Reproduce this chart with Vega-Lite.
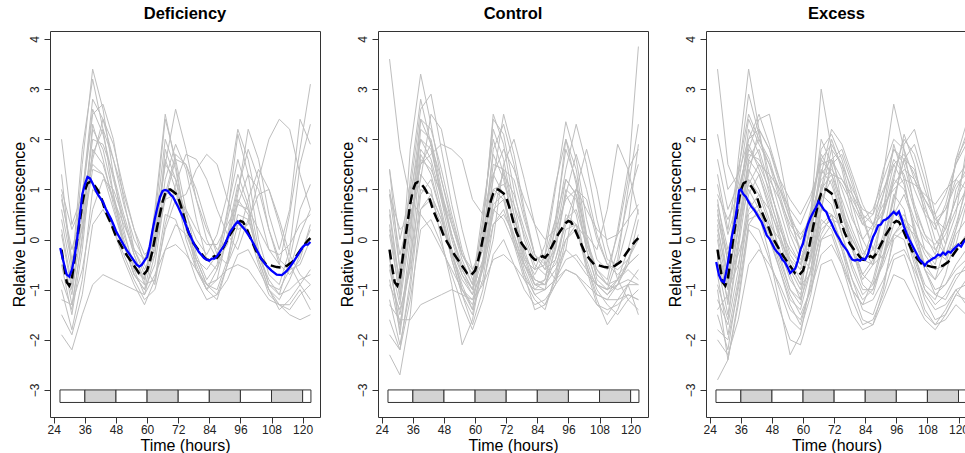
{
"$schema": "https://vega.github.io/schema/vega-lite/v6.json",
"autosize": {"type": "pad"},
"padding": {"left": 10, "top": 5, "right": 0, "bottom": 0},
"bounds": "flush",
"spacing": 58,
"config": {
  "font": "Liberation Sans",
  "view": {"stroke": "#333", "strokeWidth": 1},
  "axis": {"labelFont": "Liberation Sans", "titleFont": "Liberation Sans", "labelColor": "#222", "titleColor": "#000", "tickColor": "#333", "domain": false, "grid": false, "labelFontSize": 12, "titleFontSize": 16, "titleFontWeight": "normal", "tickSize": 6, "labelOverlap": false},
  "title": {"font": "Liberation Sans", "fontSize": 16.5, "fontWeight": "bold", "color": "#000", "anchor": "middle", "frame": "group", "baseline": "alphabetic", "offset": 9}
},
"datasets": {
"lightDark": [
{"start": 26.4, "end": 36, "phase": "light"},
{"start": 36, "end": 48, "phase": "dark"},
{"start": 48, "end": 60, "phase": "light"},
{"start": 60, "end": 72, "phase": "dark"},
{"start": 72, "end": 84, "phase": "light"},
{"start": 84, "end": 96, "phase": "dark"},
{"start": 96, "end": 108, "phase": "light"},
{"start": 108, "end": 120, "phase": "dark"},
{"start": 120, "end": 123.2, "phase": "light"}
],
"controlMean": [
{"t":27,"v":-0.2},{"t":28,"v":-0.55},{"t":29,"v":-0.85},{"t":30,"v":-0.92},{"t":31,"v":-0.78},{"t":32,"v":-0.4},{"t":33,"v":0.0},{"t":34,"v":0.35},{"t":35,"v":0.72},{"t":36,"v":0.98},{"t":37,"v":1.12},{"t":38,"v":1.15},{"t":39,"v":1.12},{"t":40,"v":1.06},{"t":41,"v":0.98},{"t":42,"v":0.88},{"t":43,"v":0.72},{"t":44,"v":0.56},{"t":45,"v":0.44},{"t":46,"v":0.33},{"t":47,"v":0.2},{"t":48,"v":0.06},{"t":50,"v":-0.12},{"t":52,"v":-0.3},{"t":54,"v":-0.45},{"t":56,"v":-0.6},{"t":57,"v":-0.68},{"t":58,"v":-0.72},{"t":59,"v":-0.68},{"t":60,"v":-0.62},{"t":61,"v":-0.45},{"t":62,"v":-0.24},{"t":63,"v":0.02},{"t":64,"v":0.28},{"t":65,"v":0.52},{"t":66,"v":0.76},{"t":67,"v":0.92},{"t":68,"v":1.0},{"t":69,"v":1.0},{"t":70,"v":0.96},{"t":71,"v":0.92},{"t":72,"v":0.84},{"t":73,"v":0.68},{"t":74,"v":0.5},{"t":75,"v":0.3},{"t":76,"v":0.14},{"t":78,"v":-0.08},{"t":80,"v":-0.22},{"t":82,"v":-0.35},{"t":83,"v":-0.4},{"t":84,"v":-0.41},{"t":85,"v":-0.36},{"t":86,"v":-0.33},{"t":87,"v":-0.36},{"t":88,"v":-0.3},{"t":90,"v":-0.1},{"t":92,"v":0.1},{"t":94,"v":0.26},{"t":95,"v":0.33},{"t":96,"v":0.37},{"t":97,"v":0.35},{"t":98,"v":0.26},{"t":100,"v":0.02},{"t":102,"v":-0.22},{"t":104,"v":-0.38},{"t":106,"v":-0.5},{"t":108,"v":-0.52},{"t":110,"v":-0.55},{"t":112,"v":-0.56},{"t":114,"v":-0.52},{"t":116,"v":-0.45},{"t":118,"v":-0.3},{"t":120,"v":-0.15},{"t":122,"v":-0.02},{"t":123,"v":0.03}
],
"groupMean": [
{"grp":"D","t":26.5,"v":-0.17},{"grp":"D","t":28,"v":-0.5},{"grp":"D","t":29,"v":-0.7},{"grp":"D","t":30,"v":-0.74},{"grp":"D","t":31,"v":-0.6},{"grp":"D","t":32,"v":-0.35},{"grp":"D","t":33,"v":0.0},{"grp":"D","t":34,"v":0.45},{"grp":"D","t":35,"v":0.9},{"grp":"D","t":36,"v":1.1},{"grp":"D","t":37,"v":1.25},{"grp":"D","t":38,"v":1.22},{"grp":"D","t":39,"v":1.12},{"grp":"D","t":40,"v":1.0},{"grp":"D","t":41,"v":0.9},{"grp":"D","t":42,"v":0.82},{"grp":"D","t":43,"v":0.75},{"grp":"D","t":44,"v":0.62},{"grp":"D","t":45,"v":0.52},{"grp":"D","t":46,"v":0.42},{"grp":"D","t":47,"v":0.3},{"grp":"D","t":48,"v":0.17},{"grp":"D","t":50,"v":-0.02},{"grp":"D","t":52,"v":-0.2},{"grp":"D","t":54,"v":-0.35},{"grp":"D","t":56,"v":-0.5},{"grp":"D","t":57,"v":-0.54},{"grp":"D","t":58,"v":-0.5},{"grp":"D","t":59,"v":-0.42},{"grp":"D","t":60,"v":-0.35},{"grp":"D","t":61,"v":-0.15},{"grp":"D","t":62,"v":0.15},{"grp":"D","t":63,"v":0.42},{"grp":"D","t":64,"v":0.65},{"grp":"D","t":65,"v":0.85},{"grp":"D","t":66,"v":0.97},{"grp":"D","t":67,"v":0.99},{"grp":"D","t":68,"v":0.97},{"grp":"D","t":69,"v":0.9},{"grp":"D","t":70,"v":0.85},{"grp":"D","t":72,"v":0.65},{"grp":"D","t":74,"v":0.42},{"grp":"D","t":76,"v":0.15},{"grp":"D","t":78,"v":-0.08},{"grp":"D","t":80,"v":-0.25},{"grp":"D","t":82,"v":-0.37},{"grp":"D","t":83,"v":-0.4},{"grp":"D","t":84,"v":-0.42},{"grp":"D","t":85,"v":-0.38},{"grp":"D","t":86,"v":-0.38},{"grp":"D","t":87,"v":-0.33},{"grp":"D","t":88,"v":-0.25},{"grp":"D","t":90,"v":-0.1},{"grp":"D","t":92,"v":0.15},{"grp":"D","t":94,"v":0.3},{"grp":"D","t":95,"v":0.36},{"grp":"D","t":96,"v":0.3},{"grp":"D","t":98,"v":0.18},{"grp":"D","t":100,"v":0.02},{"grp":"D","t":102,"v":-0.18},{"grp":"D","t":104,"v":-0.38},{"grp":"D","t":106,"v":-0.52},{"grp":"D","t":108,"v":-0.62},{"grp":"D","t":110,"v":-0.7},{"grp":"D","t":112,"v":-0.71},{"grp":"D","t":114,"v":-0.62},{"grp":"D","t":116,"v":-0.48},{"grp":"D","t":118,"v":-0.32},{"grp":"D","t":120,"v":-0.15},{"grp":"D","t":121,"v":-0.1},{"grp":"D","t":122,"v":-0.1},{"grp":"D","t":123,"v":-0.05},
{"grp":"E","t":26.5,"v":-0.45},{"grp":"E","t":27.5,"v":-0.7},{"grp":"E","t":28.5,"v":-0.82},{"grp":"E","t":29.5,"v":-0.85},{"grp":"E","t":30.5,"v":-0.62},{"grp":"E","t":31.5,"v":-0.3},{"grp":"E","t":32.5,"v":0.05},{"grp":"E","t":33.5,"v":0.3},{"grp":"E","t":34.5,"v":0.62},{"grp":"E","t":35.3,"v":0.98},{"grp":"E","t":36,"v":1.0},{"grp":"E","t":37,"v":0.9},{"grp":"E","t":38,"v":0.85},{"grp":"E","t":39,"v":0.75},{"grp":"E","t":40,"v":0.66},{"grp":"E","t":41,"v":0.6},{"grp":"E","t":42,"v":0.52},{"grp":"E","t":43,"v":0.43},{"grp":"E","t":44,"v":0.35},{"grp":"E","t":45,"v":0.22},{"grp":"E","t":46,"v":0.08},{"grp":"E","t":47,"v":0.02},{"grp":"E","t":48,"v":-0.08},{"grp":"E","t":49,"v":-0.18},{"grp":"E","t":50,"v":-0.25},{"grp":"E","t":51,"v":-0.3},{"grp":"E","t":52,"v":-0.4},{"grp":"E","t":53,"v":-0.45},{"grp":"E","t":54,"v":-0.55},{"grp":"E","t":55,"v":-0.67},{"grp":"E","t":56,"v":-0.62},{"grp":"E","t":57,"v":-0.58},{"grp":"E","t":58,"v":-0.42},{"grp":"E","t":59,"v":-0.2},{"grp":"E","t":60,"v":-0.08},{"grp":"E","t":61,"v":0.15},{"grp":"E","t":62,"v":0.32},{"grp":"E","t":63,"v":0.45},{"grp":"E","t":64,"v":0.55},{"grp":"E","t":65,"v":0.64},{"grp":"E","t":66,"v":0.76},{"grp":"E","t":67,"v":0.68},{"grp":"E","t":68,"v":0.6},{"grp":"E","t":69,"v":0.55},{"grp":"E","t":70,"v":0.42},{"grp":"E","t":71,"v":0.32},{"grp":"E","t":72,"v":0.2},{"grp":"E","t":73,"v":0.1},{"grp":"E","t":74,"v":0.02},{"grp":"E","t":75,"v":-0.08},{"grp":"E","t":76,"v":-0.15},{"grp":"E","t":77,"v":-0.22},{"grp":"E","t":78,"v":-0.32},{"grp":"E","t":79,"v":-0.4},{"grp":"E","t":80,"v":-0.42},{"grp":"E","t":81,"v":-0.4},{"grp":"E","t":82,"v":-0.42},{"grp":"E","t":83,"v":-0.38},{"grp":"E","t":84,"v":-0.4},{"grp":"E","t":85,"v":-0.3},{"grp":"E","t":86,"v":-0.12},{"grp":"E","t":87,"v":0.05},{"grp":"E","t":88,"v":0.15},{"grp":"E","t":89,"v":0.28},{"grp":"E","t":90,"v":0.3},{"grp":"E","t":91,"v":0.38},{"grp":"E","t":92,"v":0.4},{"grp":"E","t":93,"v":0.44},{"grp":"E","t":94,"v":0.5},{"grp":"E","t":95,"v":0.55},{"grp":"E","t":96,"v":0.5},{"grp":"E","t":97,"v":0.56},{"grp":"E","t":98,"v":0.42},{"grp":"E","t":99,"v":0.25},{"grp":"E","t":100,"v":0.12},{"grp":"E","t":101,"v":0.0},{"grp":"E","t":102,"v":-0.1},{"grp":"E","t":103,"v":-0.2},{"grp":"E","t":104,"v":-0.3},{"grp":"E","t":105,"v":-0.4},{"grp":"E","t":106,"v":-0.45},{"grp":"E","t":107,"v":-0.52},{"grp":"E","t":108,"v":-0.45},{"grp":"E","t":109,"v":-0.42},{"grp":"E","t":110,"v":-0.38},{"grp":"E","t":111,"v":-0.36},{"grp":"E","t":112,"v":-0.3},{"grp":"E","t":113,"v":-0.32},{"grp":"E","t":114,"v":-0.26},{"grp":"E","t":115,"v":-0.3},{"grp":"E","t":116,"v":-0.24},{"grp":"E","t":117,"v":-0.26},{"grp":"E","t":118,"v":-0.2},{"grp":"E","t":119,"v":-0.15},{"grp":"E","t":120,"v":-0.1},{"grp":"E","t":121,"v":-0.14},{"grp":"E","t":122,"v":-0.05},{"grp":"E","t":123,"v":0.0}
],
"traces": [
{"grp":"D","id":1,"t":27,"v":0.2},{"grp":"D","id":1,"t":31,"v":-0.9},{"grp":"D","id":1,"t":35,"v":1.5},{"grp":"D","id":1,"t":39,"v":3.4},{"grp":"D","id":1,"t":43,"v":2.6},{"grp":"D","id":1,"t":47,"v":1.3},{"grp":"D","id":1,"t":51,"v":0.2},{"grp":"D","id":1,"t":55,"v":-0.6},{"grp":"D","id":1,"t":59,"v":-0.8},{"grp":"D","id":1,"t":63,"v":0.4},{"grp":"D","id":1,"t":67,"v":2.4},{"grp":"D","id":1,"t":71,"v":1.6},{"grp":"D","id":1,"t":75,"v":0.6},{"grp":"D","id":1,"t":79,"v":-0.3},{"grp":"D","id":1,"t":83,"v":-0.8},{"grp":"D","id":1,"t":87,"v":-0.5},{"grp":"D","id":1,"t":91,"v":0.6},{"grp":"D","id":1,"t":95,"v":1.6},{"grp":"D","id":1,"t":99,"v":0.9},{"grp":"D","id":1,"t":103,"v":-0.2},{"grp":"D","id":1,"t":107,"v":-0.9},{"grp":"D","id":1,"t":111,"v":-1.1},{"grp":"D","id":1,"t":115,"v":-0.4},{"grp":"D","id":1,"t":119,"v":0.6},{"grp":"D","id":1,"t":123,"v":1.1},
{"grp":"D","id":2,"t":27,"v":1.3},{"grp":"D","id":2,"t":31,"v":-0.6},{"grp":"D","id":2,"t":35,"v":1.8},{"grp":"D","id":2,"t":39,"v":3.2},{"grp":"D","id":2,"t":43,"v":2.2},{"grp":"D","id":2,"t":47,"v":0.9},{"grp":"D","id":2,"t":51,"v":-0.1},{"grp":"D","id":2,"t":55,"v":-0.7},{"grp":"D","id":2,"t":59,"v":-0.9},{"grp":"D","id":2,"t":63,"v":0.6},{"grp":"D","id":2,"t":67,"v":2.5},{"grp":"D","id":2,"t":71,"v":1.5},{"grp":"D","id":2,"t":75,"v":0.3},{"grp":"D","id":2,"t":79,"v":-0.6},{"grp":"D","id":2,"t":83,"v":-1.0},{"grp":"D","id":2,"t":87,"v":-0.6},{"grp":"D","id":2,"t":91,"v":0.4},{"grp":"D","id":2,"t":95,"v":1.3},{"grp":"D","id":2,"t":99,"v":0.7},{"grp":"D","id":2,"t":103,"v":-0.4},{"grp":"D","id":2,"t":107,"v":-1.0},{"grp":"D","id":2,"t":111,"v":-1.2},{"grp":"D","id":2,"t":115,"v":-0.8},{"grp":"D","id":2,"t":119,"v":-0.3},{"grp":"D","id":2,"t":123,"v":0.2},
{"grp":"D","id":3,"t":27,"v":0.6},{"grp":"D","id":3,"t":31,"v":-0.5},{"grp":"D","id":3,"t":35,"v":0.8},{"grp":"D","id":3,"t":39,"v":2.5},{"grp":"D","id":3,"t":43,"v":2.7},{"grp":"D","id":3,"t":47,"v":2.0},{"grp":"D","id":3,"t":51,"v":0.8},{"grp":"D","id":3,"t":55,"v":-0.2},{"grp":"D","id":3,"t":59,"v":-0.7},{"grp":"D","id":3,"t":63,"v":-0.3},{"grp":"D","id":3,"t":67,"v":1.2},{"grp":"D","id":3,"t":71,"v":1.9},{"grp":"D","id":3,"t":75,"v":1.4},{"grp":"D","id":3,"t":79,"v":0.4},{"grp":"D","id":3,"t":83,"v":-0.4},{"grp":"D","id":3,"t":87,"v":-0.6},{"grp":"D","id":3,"t":91,"v":0.0},{"grp":"D","id":3,"t":95,"v":1.0},{"grp":"D","id":3,"t":99,"v":1.8},{"grp":"D","id":3,"t":103,"v":1.2},{"grp":"D","id":3,"t":107,"v":0.2},{"grp":"D","id":3,"t":111,"v":-0.5},{"grp":"D","id":3,"t":115,"v":-0.7},{"grp":"D","id":3,"t":119,"v":-0.4},{"grp":"D","id":3,"t":123,"v":0.3},
{"grp":"D","id":4,"t":27,"v":2.0},{"grp":"D","id":4,"t":31,"v":0.3},{"grp":"D","id":4,"t":35,"v":0.9},{"grp":"D","id":4,"t":39,"v":2.8},{"grp":"D","id":4,"t":43,"v":2.4},{"grp":"D","id":4,"t":47,"v":1.6},{"grp":"D","id":4,"t":51,"v":0.7},{"grp":"D","id":4,"t":55,"v":0.0},{"grp":"D","id":4,"t":59,"v":-0.4},{"grp":"D","id":4,"t":63,"v":0.2},{"grp":"D","id":4,"t":67,"v":1.5},{"grp":"D","id":4,"t":71,"v":1.2},{"grp":"D","id":4,"t":75,"v":0.5},{"grp":"D","id":4,"t":79,"v":0.0},{"grp":"D","id":4,"t":83,"v":-0.3},{"grp":"D","id":4,"t":87,"v":0.1},{"grp":"D","id":4,"t":91,"v":0.9},{"grp":"D","id":4,"t":95,"v":2.2},{"grp":"D","id":4,"t":99,"v":1.6},{"grp":"D","id":4,"t":103,"v":0.6},{"grp":"D","id":4,"t":107,"v":-0.2},{"grp":"D","id":4,"t":111,"v":-0.5},{"grp":"D","id":4,"t":115,"v":0.5},{"grp":"D","id":4,"t":119,"v":1.8},{"grp":"D","id":4,"t":123,"v":3.1},
{"grp":"D","id":5,"t":27,"v":-1.9},{"grp":"D","id":5,"t":31,"v":-2.2},{"grp":"D","id":5,"t":35,"v":-1.5},{"grp":"D","id":5,"t":39,"v":-0.9},{"grp":"D","id":5,"t":43,"v":-0.7},{"grp":"D","id":5,"t":47,"v":-0.8},{"grp":"D","id":5,"t":51,"v":-0.9},{"grp":"D","id":5,"t":55,"v":-1.0},{"grp":"D","id":5,"t":59,"v":-1.1},{"grp":"D","id":5,"t":63,"v":-0.7},{"grp":"D","id":5,"t":67,"v":-0.2},{"grp":"D","id":5,"t":71,"v":-0.1},{"grp":"D","id":5,"t":75,"v":-0.3},{"grp":"D","id":5,"t":79,"v":-0.6},{"grp":"D","id":5,"t":83,"v":-0.9},{"grp":"D","id":5,"t":87,"v":-0.8},{"grp":"D","id":5,"t":91,"v":-0.6},{"grp":"D","id":5,"t":95,"v":-0.5},{"grp":"D","id":5,"t":99,"v":-0.6},{"grp":"D","id":5,"t":103,"v":-0.9},{"grp":"D","id":5,"t":107,"v":-1.2},{"grp":"D","id":5,"t":111,"v":-1.3},{"grp":"D","id":5,"t":115,"v":-1.5},{"grp":"D","id":5,"t":119,"v":-1.6},{"grp":"D","id":5,"t":123,"v":-1.5},
{"grp":"D","id":6,"t":27,"v":0.9},{"grp":"D","id":6,"t":31,"v":-0.4},{"grp":"D","id":6,"t":35,"v":0.2},{"grp":"D","id":6,"t":39,"v":1.6},{"grp":"D","id":6,"t":43,"v":2.4},{"grp":"D","id":6,"t":47,"v":1.9},{"grp":"D","id":6,"t":51,"v":1.0},{"grp":"D","id":6,"t":55,"v":0.2},{"grp":"D","id":6,"t":59,"v":-0.5},{"grp":"D","id":6,"t":63,"v":-0.9},{"grp":"D","id":6,"t":67,"v":0.3},{"grp":"D","id":6,"t":71,"v":1.1},{"grp":"D","id":6,"t":75,"v":1.7},{"grp":"D","id":6,"t":79,"v":1.6},{"grp":"D","id":6,"t":83,"v":1.2},{"grp":"D","id":6,"t":87,"v":0.6},{"grp":"D","id":6,"t":91,"v":0.1},{"grp":"D","id":6,"t":95,"v":-0.2},{"grp":"D","id":6,"t":99,"v":0.4},{"grp":"D","id":6,"t":103,"v":0.9},{"grp":"D","id":6,"t":107,"v":1.0},{"grp":"D","id":6,"t":111,"v":0.4},{"grp":"D","id":6,"t":115,"v":-0.3},{"grp":"D","id":6,"t":119,"v":-0.7},{"grp":"D","id":6,"t":123,"v":-0.9},
{"grp":"D","id":7,"t":27,"v":-1.2},{"grp":"D","id":7,"t":31,"v":-1.3},{"grp":"D","id":7,"t":35,"v":-0.6},{"grp":"D","id":7,"t":39,"v":0.6},{"grp":"D","id":7,"t":43,"v":1.2},{"grp":"D","id":7,"t":47,"v":1.0},{"grp":"D","id":7,"t":51,"v":0.4},{"grp":"D","id":7,"t":55,"v":-0.3},{"grp":"D","id":7,"t":59,"v":-0.9},{"grp":"D","id":7,"t":63,"v":-0.8},{"grp":"D","id":7,"t":67,"v":0.2},{"grp":"D","id":7,"t":71,"v":0.8},{"grp":"D","id":7,"t":75,"v":0.9},{"grp":"D","id":7,"t":79,"v":1.4},{"grp":"D","id":7,"t":83,"v":1.7},{"grp":"D","id":7,"t":87,"v":1.5},{"grp":"D","id":7,"t":91,"v":0.8},{"grp":"D","id":7,"t":95,"v":0.2},{"grp":"D","id":7,"t":99,"v":0.3},{"grp":"D","id":7,"t":103,"v":1.2},{"grp":"D","id":7,"t":107,"v":2.0},{"grp":"D","id":7,"t":111,"v":2.4},{"grp":"D","id":7,"t":115,"v":2.2},{"grp":"D","id":7,"t":119,"v":1.3},{"grp":"D","id":7,"t":123,"v":0.6},
{"grp":"D","id":8,"t":27,"v":-0.5},{"grp":"D","id":8,"t":31,"v":-1.5},{"grp":"D","id":8,"t":35,"v":-0.2},{"grp":"D","id":8,"t":39,"v":1.8},{"grp":"D","id":8,"t":43,"v":1.5},{"grp":"D","id":8,"t":47,"v":0.8},{"grp":"D","id":8,"t":51,"v":0.0},{"grp":"D","id":8,"t":55,"v":-0.6},{"grp":"D","id":8,"t":59,"v":-1.1},{"grp":"D","id":8,"t":63,"v":-0.3},{"grp":"D","id":8,"t":67,"v":1.8},{"grp":"D","id":8,"t":71,"v":1.2},{"grp":"D","id":8,"t":75,"v":0.2},{"grp":"D","id":8,"t":79,"v":-0.5},{"grp":"D","id":8,"t":83,"v":-1.0},{"grp":"D","id":8,"t":87,"v":-1.2},{"grp":"D","id":8,"t":91,"v":-0.5},{"grp":"D","id":8,"t":95,"v":0.8},{"grp":"D","id":8,"t":99,"v":0.5},{"grp":"D","id":8,"t":103,"v":-0.4},{"grp":"D","id":8,"t":107,"v":-1.0},{"grp":"D","id":8,"t":111,"v":-1.4},{"grp":"D","id":8,"t":115,"v":-1.2},{"grp":"D","id":8,"t":119,"v":-0.9},{"grp":"D","id":8,"t":123,"v":-0.6},
{"grp":"D","id":9,"t":27,"v":-0.3},{"grp":"D","id":9,"t":31,"v":-1.1},{"grp":"D","id":9,"t":35,"v":0.3},{"grp":"D","id":9,"t":39,"v":2.2},{"grp":"D","id":9,"t":43,"v":1.8},{"grp":"D","id":9,"t":47,"v":0.9},{"grp":"D","id":9,"t":51,"v":0.1},{"grp":"D","id":9,"t":55,"v":-0.5},{"grp":"D","id":9,"t":59,"v":-0.8},{"grp":"D","id":9,"t":63,"v":0.2},{"grp":"D","id":9,"t":67,"v":2.0},{"grp":"D","id":9,"t":71,"v":1.4},{"grp":"D","id":9,"t":75,"v":0.3},{"grp":"D","id":9,"t":79,"v":-0.4},{"grp":"D","id":9,"t":83,"v":-0.6},{"grp":"D","id":9,"t":87,"v":-0.3},{"grp":"D","id":9,"t":91,"v":0.5},{"grp":"D","id":9,"t":95,"v":2.1},{"grp":"D","id":9,"t":99,"v":1.3},{"grp":"D","id":9,"t":103,"v":0.0},{"grp":"D","id":9,"t":107,"v":-0.7},{"grp":"D","id":9,"t":111,"v":-0.9},{"grp":"D","id":9,"t":115,"v":-0.2},{"grp":"D","id":9,"t":119,"v":1.5},{"grp":"D","id":9,"t":123,"v":2.3},
{"grp":"D","id":10,"t":27,"v":-1.0},{"grp":"D","id":10,"t":31,"v":-1.8},{"grp":"D","id":10,"t":35,"v":-0.8},{"grp":"D","id":10,"t":39,"v":1.0},{"grp":"D","id":10,"t":43,"v":0.8},{"grp":"D","id":10,"t":47,"v":0.2},{"grp":"D","id":10,"t":51,"v":-0.4},{"grp":"D","id":10,"t":55,"v":-0.9},{"grp":"D","id":10,"t":59,"v":-1.3},{"grp":"D","id":10,"t":63,"v":-0.8},{"grp":"D","id":10,"t":67,"v":0.5},{"grp":"D","id":10,"t":71,"v":0.4},{"grp":"D","id":10,"t":75,"v":-0.2},{"grp":"D","id":10,"t":79,"v":-0.8},{"grp":"D","id":10,"t":83,"v":-1.2},{"grp":"D","id":10,"t":87,"v":-1.1},{"grp":"D","id":10,"t":91,"v":-0.5},{"grp":"D","id":10,"t":95,"v":0.3},{"grp":"D","id":10,"t":99,"v":0.2},{"grp":"D","id":10,"t":103,"v":-0.5},{"grp":"D","id":10,"t":107,"v":-1.1},{"grp":"D","id":10,"t":111,"v":-1.3},{"grp":"D","id":10,"t":115,"v":-1.4},{"grp":"D","id":10,"t":119,"v":-1.1},{"grp":"D","id":10,"t":123,"v":-0.9},
{"grp":"D","id":11,"t":27,"v":0.4},{"grp":"D","id":11,"t":31,"v":-0.7},{"grp":"D","id":11,"t":35,"v":0.9},{"grp":"D","id":11,"t":39,"v":2.6},{"grp":"D","id":11,"t":43,"v":2.1},{"grp":"D","id":11,"t":47,"v":1.2},{"grp":"D","id":11,"t":51,"v":0.4},{"grp":"D","id":11,"t":55,"v":-0.3},{"grp":"D","id":11,"t":59,"v":-0.8},{"grp":"D","id":11,"t":63,"v":0.0},{"grp":"D","id":11,"t":67,"v":1.5},{"grp":"D","id":11,"t":71,"v":2.6},{"grp":"D","id":11,"t":75,"v":1.8},{"grp":"D","id":11,"t":79,"v":0.8},{"grp":"D","id":11,"t":83,"v":0.0},{"grp":"D","id":11,"t":87,"v":-0.4},{"grp":"D","id":11,"t":91,"v":-0.1},{"grp":"D","id":11,"t":95,"v":0.9},{"grp":"D","id":11,"t":99,"v":2.2},{"grp":"D","id":11,"t":103,"v":1.6},{"grp":"D","id":11,"t":107,"v":0.5},{"grp":"D","id":11,"t":111,"v":-0.2},{"grp":"D","id":11,"t":115,"v":0.6},{"grp":"D","id":11,"t":119,"v":2.4},{"grp":"D","id":11,"t":123,"v":1.9},
{"grp":"D","id":12,"t":27,"v":-0.8},{"grp":"D","id":12,"t":31,"v":-1.4},{"grp":"D","id":12,"t":35,"v":0.1},{"grp":"D","id":12,"t":39,"v":1.4},{"grp":"D","id":12,"t":43,"v":1.3},{"grp":"D","id":12,"t":47,"v":0.6},{"grp":"D","id":12,"t":51,"v":-0.1},{"grp":"D","id":12,"t":55,"v":-0.7},{"grp":"D","id":12,"t":59,"v":-1.0},{"grp":"D","id":12,"t":63,"v":-0.5},{"grp":"D","id":12,"t":67,"v":0.9},{"grp":"D","id":12,"t":71,"v":1.0},{"grp":"D","id":12,"t":75,"v":0.4},{"grp":"D","id":12,"t":79,"v":-0.4},{"grp":"D","id":12,"t":83,"v":-0.9},{"grp":"D","id":12,"t":87,"v":-1.0},{"grp":"D","id":12,"t":91,"v":-0.4},{"grp":"D","id":12,"t":95,"v":0.5},{"grp":"D","id":12,"t":99,"v":0.4},{"grp":"D","id":12,"t":103,"v":-0.3},{"grp":"D","id":12,"t":107,"v":-0.8},{"grp":"D","id":12,"t":111,"v":-1.1},{"grp":"D","id":12,"t":115,"v":-1.0},{"grp":"D","id":12,"t":119,"v":-0.8},{"grp":"D","id":12,"t":123,"v":-0.7},
{"grp":"D","id":13,"t":27,"v":0.1},{"grp":"D","id":13,"t":31,"v":-1.0},{"grp":"D","id":13,"t":35,"v":0.5},{"grp":"D","id":13,"t":39,"v":2.0},{"grp":"D","id":13,"t":43,"v":1.9},{"grp":"D","id":13,"t":47,"v":1.3},{"grp":"D","id":13,"t":51,"v":0.5},{"grp":"D","id":13,"t":55,"v":-0.2},{"grp":"D","id":13,"t":59,"v":-0.6},{"grp":"D","id":13,"t":63,"v":-0.2},{"grp":"D","id":13,"t":67,"v":0.8},{"grp":"D","id":13,"t":71,"v":1.6},{"grp":"D","id":13,"t":75,"v":1.5},{"grp":"D","id":13,"t":79,"v":1.0},{"grp":"D","id":13,"t":83,"v":0.3},{"grp":"D","id":13,"t":87,"v":-0.3},{"grp":"D","id":13,"t":91,"v":-0.5},{"grp":"D","id":13,"t":95,"v":0.0},{"grp":"D","id":13,"t":99,"v":0.8},{"grp":"D","id":13,"t":103,"v":1.4},{"grp":"D","id":13,"t":107,"v":1.0},{"grp":"D","id":13,"t":111,"v":0.3},{"grp":"D","id":13,"t":115,"v":-0.5},{"grp":"D","id":13,"t":119,"v":-0.9},{"grp":"D","id":13,"t":123,"v":-1.2},
{"grp":"D","id":14,"t":27,"v":-1.5},{"grp":"D","id":14,"t":31,"v":-1.9},{"grp":"D","id":14,"t":35,"v":-1.1},{"grp":"D","id":14,"t":39,"v":0.3},{"grp":"D","id":14,"t":43,"v":0.6},{"grp":"D","id":14,"t":47,"v":0.2},{"grp":"D","id":14,"t":51,"v":-0.3},{"grp":"D","id":14,"t":55,"v":-0.8},{"grp":"D","id":14,"t":59,"v":-1.2},{"grp":"D","id":14,"t":63,"v":-1.0},{"grp":"D","id":14,"t":67,"v":-0.2},{"grp":"D","id":14,"t":71,"v":0.3},{"grp":"D","id":14,"t":75,"v":0.1},{"grp":"D","id":14,"t":79,"v":-0.4},{"grp":"D","id":14,"t":83,"v":-0.9},{"grp":"D","id":14,"t":87,"v":-1.1},{"grp":"D","id":14,"t":91,"v":-0.8},{"grp":"D","id":14,"t":95,"v":-0.3},{"grp":"D","id":14,"t":99,"v":-0.2},{"grp":"D","id":14,"t":103,"v":-0.6},{"grp":"D","id":14,"t":107,"v":-1.0},{"grp":"D","id":14,"t":111,"v":-1.3},{"grp":"D","id":14,"t":115,"v":-1.3},{"grp":"D","id":14,"t":119,"v":-1.0},{"grp":"D","id":14,"t":123,"v":-1.4},
{"grp":"D","id":15,"t":27,"v":0.8},{"grp":"D","id":15,"t":31,"v":-0.2},{"grp":"D","id":15,"t":35,"v":0.6},{"grp":"D","id":15,"t":39,"v":1.7},{"grp":"D","id":15,"t":43,"v":2.2},{"grp":"D","id":15,"t":47,"v":1.6},{"grp":"D","id":15,"t":51,"v":0.9},{"grp":"D","id":15,"t":55,"v":0.2},{"grp":"D","id":15,"t":59,"v":-0.3},{"grp":"D","id":15,"t":63,"v":-0.1},{"grp":"D","id":15,"t":67,"v":0.9},{"grp":"D","id":15,"t":71,"v":1.7},{"grp":"D","id":15,"t":75,"v":1.5},{"grp":"D","id":15,"t":79,"v":0.8},{"grp":"D","id":15,"t":83,"v":0.2},{"grp":"D","id":15,"t":87,"v":-0.2},{"grp":"D","id":15,"t":91,"v":0.0},{"grp":"D","id":15,"t":95,"v":0.7},{"grp":"D","id":15,"t":99,"v":1.3},{"grp":"D","id":15,"t":103,"v":1.0},{"grp":"D","id":15,"t":107,"v":0.2},{"grp":"D","id":15,"t":111,"v":-0.4},{"grp":"D","id":15,"t":115,"v":-0.6},{"grp":"D","id":15,"t":119,"v":-0.5},{"grp":"D","id":15,"t":123,"v":0.0},
{"grp":"D","id":16,"t":27,"v":-0.2},{"grp":"D","id":16,"t":31,"v":-1.3},{"grp":"D","id":16,"t":35,"v":0.0},{"grp":"D","id":16,"t":39,"v":2.3},{"grp":"D","id":16,"t":43,"v":1.6},{"grp":"D","id":16,"t":47,"v":0.7},{"grp":"D","id":16,"t":51,"v":-0.1},{"grp":"D","id":16,"t":55,"v":-0.7},{"grp":"D","id":16,"t":59,"v":-1.0},{"grp":"D","id":16,"t":63,"v":-0.1},{"grp":"D","id":16,"t":67,"v":1.6},{"grp":"D","id":16,"t":71,"v":1.0},{"grp":"D","id":16,"t":75,"v":0.0},{"grp":"D","id":16,"t":79,"v":-0.6},{"grp":"D","id":16,"t":83,"v":-1.0},{"grp":"D","id":16,"t":87,"v":-0.8},{"grp":"D","id":16,"t":91,"v":0.1},{"grp":"D","id":16,"t":95,"v":1.1},{"grp":"D","id":16,"t":99,"v":0.6},{"grp":"D","id":16,"t":103,"v":-0.3},{"grp":"D","id":16,"t":107,"v":-0.9},{"grp":"D","id":16,"t":111,"v":-1.0},{"grp":"D","id":16,"t":115,"v":-0.6},{"grp":"D","id":16,"t":119,"v":0.1},{"grp":"D","id":16,"t":123,"v":0.6},
{"grp":"D","id":17,"t":27,"v":1.0},{"grp":"D","id":17,"t":31,"v":0.2},{"grp":"D","id":17,"t":35,"v":0.7},{"grp":"D","id":17,"t":39,"v":1.5},{"grp":"D","id":17,"t":43,"v":1.3},{"grp":"D","id":17,"t":47,"v":0.8},{"grp":"D","id":17,"t":51,"v":0.3},{"grp":"D","id":17,"t":55,"v":-0.2},{"grp":"D","id":17,"t":59,"v":-0.4},{"grp":"D","id":17,"t":63,"v":0.1},{"grp":"D","id":17,"t":67,"v":0.8},{"grp":"D","id":17,"t":71,"v":0.9},{"grp":"D","id":17,"t":75,"v":0.6},{"grp":"D","id":17,"t":79,"v":0.2},{"grp":"D","id":17,"t":83,"v":-0.1},{"grp":"D","id":17,"t":87,"v":-0.1},{"grp":"D","id":17,"t":91,"v":0.3},{"grp":"D","id":17,"t":95,"v":0.7},{"grp":"D","id":17,"t":99,"v":0.6},{"grp":"D","id":17,"t":103,"v":0.2},{"grp":"D","id":17,"t":107,"v":-0.2},{"grp":"D","id":17,"t":111,"v":-0.3},{"grp":"D","id":17,"t":115,"v":-0.1},{"grp":"D","id":17,"t":119,"v":0.3},{"grp":"D","id":17,"t":123,"v":0.5},
{"grp":"C","id":1,"t":27,"v":3.6},{"grp":"C","id":1,"t":31,"v":1.8},{"grp":"C","id":1,"t":35,"v":0.8},{"grp":"C","id":1,"t":39,"v":0.5},{"grp":"C","id":1,"t":43,"v":0.2},{"grp":"C","id":1,"t":47,"v":-0.2},{"grp":"C","id":1,"t":51,"v":-0.6},{"grp":"C","id":1,"t":55,"v":-1.0},{"grp":"C","id":1,"t":59,"v":-1.2},{"grp":"C","id":1,"t":63,"v":-0.5},{"grp":"C","id":1,"t":67,"v":0.6},{"grp":"C","id":1,"t":71,"v":0.4},{"grp":"C","id":1,"t":75,"v":-0.1},{"grp":"C","id":1,"t":79,"v":-0.5},{"grp":"C","id":1,"t":83,"v":-0.8},{"grp":"C","id":1,"t":87,"v":-0.9},{"grp":"C","id":1,"t":91,"v":-0.6},{"grp":"C","id":1,"t":95,"v":-0.2},{"grp":"C","id":1,"t":99,"v":-0.4},{"grp":"C","id":1,"t":103,"v":-0.7},{"grp":"C","id":1,"t":107,"v":-0.9},{"grp":"C","id":1,"t":111,"v":-1.0},{"grp":"C","id":1,"t":115,"v":-0.8},{"grp":"C","id":1,"t":119,"v":-0.5},{"grp":"C","id":1,"t":123,"v":-0.3},
{"grp":"C","id":2,"t":27,"v":0.5},{"grp":"C","id":2,"t":31,"v":-1.0},{"grp":"C","id":2,"t":35,"v":1.8},{"grp":"C","id":2,"t":39,"v":3.3},{"grp":"C","id":2,"t":43,"v":2.3},{"grp":"C","id":2,"t":47,"v":1.2},{"grp":"C","id":2,"t":51,"v":0.3},{"grp":"C","id":2,"t":55,"v":-0.4},{"grp":"C","id":2,"t":59,"v":-0.9},{"grp":"C","id":2,"t":63,"v":0.3},{"grp":"C","id":2,"t":67,"v":2.4},{"grp":"C","id":2,"t":71,"v":2.1},{"grp":"C","id":2,"t":75,"v":1.0},{"grp":"C","id":2,"t":79,"v":0.0},{"grp":"C","id":2,"t":83,"v":-0.6},{"grp":"C","id":2,"t":87,"v":-0.5},{"grp":"C","id":2,"t":91,"v":0.4},{"grp":"C","id":2,"t":95,"v":1.8},{"grp":"C","id":2,"t":99,"v":1.2},{"grp":"C","id":2,"t":103,"v":0.0},{"grp":"C","id":2,"t":107,"v":-0.7},{"grp":"C","id":2,"t":111,"v":-0.9},{"grp":"C","id":2,"t":115,"v":-0.2},{"grp":"C","id":2,"t":119,"v":0.8},{"grp":"C","id":2,"t":123,"v":1.5},
{"grp":"C","id":3,"t":27,"v":1.4},{"grp":"C","id":3,"t":31,"v":-0.6},{"grp":"C","id":3,"t":35,"v":1.0},{"grp":"C","id":3,"t":39,"v":2.6},{"grp":"C","id":3,"t":43,"v":2.9},{"grp":"C","id":3,"t":47,"v":1.8},{"grp":"C","id":3,"t":51,"v":0.7},{"grp":"C","id":3,"t":55,"v":-0.2},{"grp":"C","id":3,"t":59,"v":-0.8},{"grp":"C","id":3,"t":63,"v":-0.2},{"grp":"C","id":3,"t":67,"v":1.2},{"grp":"C","id":3,"t":71,"v":2.5},{"grp":"C","id":3,"t":75,"v":1.7},{"grp":"C","id":3,"t":79,"v":0.6},{"grp":"C","id":3,"t":83,"v":-0.3},{"grp":"C","id":3,"t":87,"v":-0.6},{"grp":"C","id":3,"t":91,"v":0.2},{"grp":"C","id":3,"t":95,"v":1.4},{"grp":"C","id":3,"t":99,"v":2.3},{"grp":"C","id":3,"t":103,"v":1.5},{"grp":"C","id":3,"t":107,"v":0.4},{"grp":"C","id":3,"t":111,"v":-0.4},{"grp":"C","id":3,"t":115,"v":-0.5},{"grp":"C","id":3,"t":119,"v":0.3},{"grp":"C","id":3,"t":123,"v":1.9},
{"grp":"C","id":4,"t":27,"v":-0.3},{"grp":"C","id":4,"t":31,"v":-1.9},{"grp":"C","id":4,"t":35,"v":-0.3},{"grp":"C","id":4,"t":39,"v":2.2},{"grp":"C","id":4,"t":43,"v":2.0},{"grp":"C","id":4,"t":47,"v":1.0},{"grp":"C","id":4,"t":51,"v":0.1},{"grp":"C","id":4,"t":55,"v":-0.6},{"grp":"C","id":4,"t":59,"v":-1.0},{"grp":"C","id":4,"t":63,"v":-0.1},{"grp":"C","id":4,"t":67,"v":1.5},{"grp":"C","id":4,"t":71,"v":1.4},{"grp":"C","id":4,"t":75,"v":0.5},{"grp":"C","id":4,"t":79,"v":-0.4},{"grp":"C","id":4,"t":83,"v":-0.9},{"grp":"C","id":4,"t":87,"v":-0.9},{"grp":"C","id":4,"t":91,"v":-0.2},{"grp":"C","id":4,"t":95,"v":1.0},{"grp":"C","id":4,"t":99,"v":0.8},{"grp":"C","id":4,"t":103,"v":-0.2},{"grp":"C","id":4,"t":107,"v":-0.9},{"grp":"C","id":4,"t":111,"v":-1.1},{"grp":"C","id":4,"t":115,"v":-0.9},{"grp":"C","id":4,"t":119,"v":-0.4},{"grp":"C","id":4,"t":123,"v":0.0},
{"grp":"C","id":5,"t":27,"v":-1.3},{"grp":"C","id":5,"t":31,"v":-1.6},{"grp":"C","id":5,"t":35,"v":-1.6},{"grp":"C","id":5,"t":39,"v":-1.3},{"grp":"C","id":5,"t":43,"v":-1.2},{"grp":"C","id":5,"t":47,"v":-1.1},{"grp":"C","id":5,"t":51,"v":-1.0},{"grp":"C","id":5,"t":55,"v":-1.1},{"grp":"C","id":5,"t":59,"v":-1.2},{"grp":"C","id":5,"t":63,"v":-0.9},{"grp":"C","id":5,"t":67,"v":-0.4},{"grp":"C","id":5,"t":71,"v":-0.3},{"grp":"C","id":5,"t":75,"v":-0.5},{"grp":"C","id":5,"t":79,"v":-0.8},{"grp":"C","id":5,"t":83,"v":-1.0},{"grp":"C","id":5,"t":87,"v":-1.0},{"grp":"C","id":5,"t":91,"v":-0.8},{"grp":"C","id":5,"t":95,"v":-0.6},{"grp":"C","id":5,"t":99,"v":-0.7},{"grp":"C","id":5,"t":103,"v":-0.9},{"grp":"C","id":5,"t":107,"v":-1.1},{"grp":"C","id":5,"t":111,"v":-1.2},{"grp":"C","id":5,"t":115,"v":-1.2},{"grp":"C","id":5,"t":119,"v":-1.1},{"grp":"C","id":5,"t":123,"v":-1.2},
{"grp":"C","id":6,"t":27,"v":-2.3},{"grp":"C","id":6,"t":31,"v":-2.7},{"grp":"C","id":6,"t":35,"v":-1.5},{"grp":"C","id":6,"t":39,"v":0.6},{"grp":"C","id":6,"t":43,"v":0.9},{"grp":"C","id":6,"t":47,"v":0.4},{"grp":"C","id":6,"t":51,"v":-0.3},{"grp":"C","id":6,"t":55,"v":-0.9},{"grp":"C","id":6,"t":59,"v":-1.4},{"grp":"C","id":6,"t":63,"v":-0.8},{"grp":"C","id":6,"t":67,"v":0.6},{"grp":"C","id":6,"t":71,"v":0.8},{"grp":"C","id":6,"t":75,"v":0.1},{"grp":"C","id":6,"t":79,"v":-0.6},{"grp":"C","id":6,"t":83,"v":-1.1},{"grp":"C","id":6,"t":87,"v":-1.3},{"grp":"C","id":6,"t":91,"v":-0.8},{"grp":"C","id":6,"t":95,"v":0.2},{"grp":"C","id":6,"t":99,"v":0.3},{"grp":"C","id":6,"t":103,"v":-0.4},{"grp":"C","id":6,"t":107,"v":-1.0},{"grp":"C","id":6,"t":111,"v":-1.3},{"grp":"C","id":6,"t":115,"v":-1.5},{"grp":"C","id":6,"t":119,"v":-1.2},{"grp":"C","id":6,"t":123,"v":-1.0},
{"grp":"C","id":7,"t":27,"v":0.2},{"grp":"C","id":7,"t":31,"v":-0.8},{"grp":"C","id":7,"t":35,"v":0.4},{"grp":"C","id":7,"t":39,"v":1.5},{"grp":"C","id":7,"t":43,"v":1.7},{"grp":"C","id":7,"t":47,"v":1.9},{"grp":"C","id":7,"t":51,"v":1.8},{"grp":"C","id":7,"t":55,"v":1.6},{"grp":"C","id":7,"t":59,"v":0.8},{"grp":"C","id":7,"t":63,"v":0.5},{"grp":"C","id":7,"t":67,"v":1.3},{"grp":"C","id":7,"t":71,"v":1.8},{"grp":"C","id":7,"t":75,"v":1.4},{"grp":"C","id":7,"t":79,"v":0.8},{"grp":"C","id":7,"t":83,"v":0.3},{"grp":"C","id":7,"t":87,"v":0.0},{"grp":"C","id":7,"t":91,"v":0.2},{"grp":"C","id":7,"t":95,"v":0.8},{"grp":"C","id":7,"t":99,"v":1.0},{"grp":"C","id":7,"t":103,"v":0.6},{"grp":"C","id":7,"t":107,"v":0.2},{"grp":"C","id":7,"t":111,"v":0.0},{"grp":"C","id":7,"t":115,"v":0.1},{"grp":"C","id":7,"t":119,"v":0.4},{"grp":"C","id":7,"t":123,"v":0.7},
{"grp":"C","id":8,"t":27,"v":-0.8},{"grp":"C","id":8,"t":31,"v":-1.8},{"grp":"C","id":8,"t":35,"v":0.0},{"grp":"C","id":8,"t":39,"v":2.4},{"grp":"C","id":8,"t":43,"v":1.9},{"grp":"C","id":8,"t":47,"v":0.8},{"grp":"C","id":8,"t":51,"v":-0.2},{"grp":"C","id":8,"t":55,"v":-1.0},{"grp":"C","id":8,"t":59,"v":-1.4},{"grp":"C","id":8,"t":63,"v":0.2},{"grp":"C","id":8,"t":67,"v":2.5},{"grp":"C","id":8,"t":71,"v":1.9},{"grp":"C","id":8,"t":75,"v":0.7},{"grp":"C","id":8,"t":79,"v":-0.3},{"grp":"C","id":8,"t":83,"v":-0.9},{"grp":"C","id":8,"t":87,"v":-0.8},{"grp":"C","id":8,"t":91,"v":0.3},{"grp":"C","id":8,"t":95,"v":2.0},{"grp":"C","id":8,"t":99,"v":1.4},{"grp":"C","id":8,"t":103,"v":0.1},{"grp":"C","id":8,"t":107,"v":-0.8},{"grp":"C","id":8,"t":111,"v":-1.0},{"grp":"C","id":8,"t":115,"v":-0.4},{"grp":"C","id":8,"t":119,"v":1.0},{"grp":"C","id":8,"t":123,"v":2.3},
{"grp":"C","id":9,"t":27,"v":-1.6},{"grp":"C","id":9,"t":31,"v":-2.2},{"grp":"C","id":9,"t":35,"v":-0.8},{"grp":"C","id":9,"t":39,"v":1.3},{"grp":"C","id":9,"t":43,"v":1.0},{"grp":"C","id":9,"t":47,"v":0.0},{"grp":"C","id":9,"t":51,"v":-0.9},{"grp":"C","id":9,"t":55,"v":-2.1},{"grp":"C","id":9,"t":59,"v":-1.6},{"grp":"C","id":9,"t":63,"v":-0.5},{"grp":"C","id":9,"t":67,"v":1.0},{"grp":"C","id":9,"t":71,"v":0.8},{"grp":"C","id":9,"t":75,"v":-0.1},{"grp":"C","id":9,"t":79,"v":-0.8},{"grp":"C","id":9,"t":83,"v":-1.2},{"grp":"C","id":9,"t":87,"v":-1.4},{"grp":"C","id":9,"t":91,"v":-0.7},{"grp":"C","id":9,"t":95,"v":0.5},{"grp":"C","id":9,"t":99,"v":0.3},{"grp":"C","id":9,"t":103,"v":-0.6},{"grp":"C","id":9,"t":107,"v":-1.3},{"grp":"C","id":9,"t":111,"v":-1.5},{"grp":"C","id":9,"t":115,"v":-1.2},{"grp":"C","id":9,"t":119,"v":-0.9},{"grp":"C","id":9,"t":123,"v":-1.5},
{"grp":"C","id":10,"t":27,"v":0.9},{"grp":"C","id":10,"t":31,"v":-0.6},{"grp":"C","id":10,"t":35,"v":0.6},{"grp":"C","id":10,"t":39,"v":2.0},{"grp":"C","id":10,"t":43,"v":1.8},{"grp":"C","id":10,"t":47,"v":0.9},{"grp":"C","id":10,"t":51,"v":0.1},{"grp":"C","id":10,"t":55,"v":-0.6},{"grp":"C","id":10,"t":59,"v":-1.0},{"grp":"C","id":10,"t":63,"v":0.4},{"grp":"C","id":10,"t":67,"v":2.2},{"grp":"C","id":10,"t":71,"v":1.6},{"grp":"C","id":10,"t":75,"v":0.5},{"grp":"C","id":10,"t":79,"v":-0.3},{"grp":"C","id":10,"t":83,"v":-0.7},{"grp":"C","id":10,"t":87,"v":-0.3},{"grp":"C","id":10,"t":91,"v":1.0},{"grp":"C","id":10,"t":95,"v":2.35},{"grp":"C","id":10,"t":99,"v":1.6},{"grp":"C","id":10,"t":103,"v":0.4},{"grp":"C","id":10,"t":107,"v":-0.4},{"grp":"C","id":10,"t":111,"v":-0.6},{"grp":"C","id":10,"t":115,"v":0.1},{"grp":"C","id":10,"t":119,"v":1.2},{"grp":"C","id":10,"t":123,"v":3.85},
{"grp":"C","id":11,"t":27,"v":-0.4},{"grp":"C","id":11,"t":31,"v":-1.3},{"grp":"C","id":11,"t":35,"v":0.2},{"grp":"C","id":11,"t":39,"v":1.8},{"grp":"C","id":11,"t":43,"v":1.5},{"grp":"C","id":11,"t":47,"v":0.6},{"grp":"C","id":11,"t":51,"v":-0.3},{"grp":"C","id":11,"t":55,"v":-1.0},{"grp":"C","id":11,"t":59,"v":-1.3},{"grp":"C","id":11,"t":63,"v":-0.6},{"grp":"C","id":11,"t":67,"v":0.8},{"grp":"C","id":11,"t":71,"v":1.3},{"grp":"C","id":11,"t":75,"v":0.9},{"grp":"C","id":11,"t":79,"v":0.2},{"grp":"C","id":11,"t":83,"v":-0.4},{"grp":"C","id":11,"t":87,"v":-0.3},{"grp":"C","id":11,"t":91,"v":0.4},{"grp":"C","id":11,"t":95,"v":1.2},{"grp":"C","id":11,"t":99,"v":0.9},{"grp":"C","id":11,"t":103,"v":0.1},{"grp":"C","id":11,"t":107,"v":-0.2},{"grp":"C","id":11,"t":111,"v":0.6},{"grp":"C","id":11,"t":115,"v":1.9},{"grp":"C","id":11,"t":119,"v":1.4},{"grp":"C","id":11,"t":123,"v":0.5},
{"grp":"C","id":12,"t":27,"v":1.0},{"grp":"C","id":12,"t":31,"v":-0.3},{"grp":"C","id":12,"t":35,"v":0.5},{"grp":"C","id":12,"t":39,"v":1.2},{"grp":"C","id":12,"t":43,"v":2.5},{"grp":"C","id":12,"t":47,"v":2.2},{"grp":"C","id":12,"t":51,"v":1.2},{"grp":"C","id":12,"t":55,"v":0.2},{"grp":"C","id":12,"t":59,"v":-0.6},{"grp":"C","id":12,"t":63,"v":-0.9},{"grp":"C","id":12,"t":67,"v":0.0},{"grp":"C","id":12,"t":71,"v":1.5},{"grp":"C","id":12,"t":75,"v":2.0},{"grp":"C","id":12,"t":79,"v":1.2},{"grp":"C","id":12,"t":83,"v":0.3},{"grp":"C","id":12,"t":87,"v":-0.5},{"grp":"C","id":12,"t":91,"v":-0.8},{"grp":"C","id":12,"t":95,"v":-0.2},{"grp":"C","id":12,"t":99,"v":1.0},{"grp":"C","id":12,"t":103,"v":1.8},{"grp":"C","id":12,"t":107,"v":1.0},{"grp":"C","id":12,"t":111,"v":-0.1},{"grp":"C","id":12,"t":115,"v":-0.8},{"grp":"C","id":12,"t":119,"v":-1.2},{"grp":"C","id":12,"t":123,"v":-1.4},
{"grp":"C","id":13,"t":27,"v":-1.2},{"grp":"C","id":13,"t":31,"v":-2.1},{"grp":"C","id":13,"t":35,"v":-1.0},{"grp":"C","id":13,"t":39,"v":0.9},{"grp":"C","id":13,"t":43,"v":1.2},{"grp":"C","id":13,"t":47,"v":0.5},{"grp":"C","id":13,"t":51,"v":-0.4},{"grp":"C","id":13,"t":55,"v":-1.1},{"grp":"C","id":13,"t":59,"v":-1.7},{"grp":"C","id":13,"t":63,"v":-1.0},{"grp":"C","id":13,"t":67,"v":0.3},{"grp":"C","id":13,"t":71,"v":0.6},{"grp":"C","id":13,"t":75,"v":0.0},{"grp":"C","id":13,"t":79,"v":-0.7},{"grp":"C","id":13,"t":83,"v":-1.4},{"grp":"C","id":13,"t":87,"v":-1.3},{"grp":"C","id":13,"t":91,"v":-0.9},{"grp":"C","id":13,"t":95,"v":0.0},{"grp":"C","id":13,"t":99,"v":0.2},{"grp":"C","id":13,"t":103,"v":-0.5},{"grp":"C","id":13,"t":107,"v":-1.2},{"grp":"C","id":13,"t":111,"v":-1.7},{"grp":"C","id":13,"t":115,"v":-1.4},{"grp":"C","id":13,"t":119,"v":-0.9},{"grp":"C","id":13,"t":123,"v":-0.6},
{"grp":"C","id":14,"t":27,"v":0.3},{"grp":"C","id":14,"t":31,"v":-1.2},{"grp":"C","id":14,"t":35,"v":0.7},{"grp":"C","id":14,"t":39,"v":2.4},{"grp":"C","id":14,"t":43,"v":2.2},{"grp":"C","id":14,"t":47,"v":1.4},{"grp":"C","id":14,"t":51,"v":0.5},{"grp":"C","id":14,"t":55,"v":-0.3},{"grp":"C","id":14,"t":59,"v":-0.7},{"grp":"C","id":14,"t":63,"v":0.0},{"grp":"C","id":14,"t":67,"v":1.8},{"grp":"C","id":14,"t":71,"v":2.3},{"grp":"C","id":14,"t":75,"v":1.5},{"grp":"C","id":14,"t":79,"v":0.5},{"grp":"C","id":14,"t":83,"v":-0.3},{"grp":"C","id":14,"t":87,"v":-0.5},{"grp":"C","id":14,"t":91,"v":-0.2},{"grp":"C","id":14,"t":95,"v":0.9},{"grp":"C","id":14,"t":99,"v":1.7},{"grp":"C","id":14,"t":103,"v":1.0},{"grp":"C","id":14,"t":107,"v":0.1},{"grp":"C","id":14,"t":111,"v":-0.5},{"grp":"C","id":14,"t":115,"v":-0.7},{"grp":"C","id":14,"t":119,"v":-0.5},{"grp":"C","id":14,"t":123,"v":0.4},
{"grp":"C","id":15,"t":27,"v":-0.6},{"grp":"C","id":15,"t":31,"v":-1.5},{"grp":"C","id":15,"t":35,"v":-0.4},{"grp":"C","id":15,"t":39,"v":1.0},{"grp":"C","id":15,"t":43,"v":0.9},{"grp":"C","id":15,"t":47,"v":0.4},{"grp":"C","id":15,"t":51,"v":-0.2},{"grp":"C","id":15,"t":55,"v":-0.7},{"grp":"C","id":15,"t":59,"v":-1.0},{"grp":"C","id":15,"t":63,"v":-0.4},{"grp":"C","id":15,"t":67,"v":0.7},{"grp":"C","id":15,"t":71,"v":0.9},{"grp":"C","id":15,"t":75,"v":0.4},{"grp":"C","id":15,"t":79,"v":-0.2},{"grp":"C","id":15,"t":83,"v":-0.8},{"grp":"C","id":15,"t":87,"v":-0.9},{"grp":"C","id":15,"t":91,"v":-0.4},{"grp":"C","id":15,"t":95,"v":0.4},{"grp":"C","id":15,"t":99,"v":0.6},{"grp":"C","id":15,"t":103,"v":-0.1},{"grp":"C","id":15,"t":107,"v":-0.7},{"grp":"C","id":15,"t":111,"v":-0.9},{"grp":"C","id":15,"t":115,"v":-0.8},{"grp":"C","id":15,"t":119,"v":-0.6},{"grp":"C","id":15,"t":123,"v":-0.8},
{"grp":"C","id":16,"t":27,"v":1.4},{"grp":"C","id":16,"t":31,"v":0.0},{"grp":"C","id":16,"t":35,"v":0.9},{"grp":"C","id":16,"t":39,"v":2.0},{"grp":"C","id":16,"t":43,"v":1.6},{"grp":"C","id":16,"t":47,"v":0.8},{"grp":"C","id":16,"t":51,"v":0.1},{"grp":"C","id":16,"t":55,"v":-0.5},{"grp":"C","id":16,"t":59,"v":-0.9},{"grp":"C","id":16,"t":63,"v":0.6},{"grp":"C","id":16,"t":67,"v":2.0},{"grp":"C","id":16,"t":71,"v":1.3},{"grp":"C","id":16,"t":75,"v":0.3},{"grp":"C","id":16,"t":79,"v":-0.4},{"grp":"C","id":16,"t":83,"v":-0.6},{"grp":"C","id":16,"t":87,"v":-0.1},{"grp":"C","id":16,"t":91,"v":1.1},{"grp":"C","id":16,"t":95,"v":2.0},{"grp":"C","id":16,"t":99,"v":1.1},{"grp":"C","id":16,"t":103,"v":-0.1},{"grp":"C","id":16,"t":107,"v":-0.6},{"grp":"C","id":16,"t":111,"v":-0.8},{"grp":"C","id":16,"t":115,"v":0.2},{"grp":"C","id":16,"t":119,"v":1.4},{"grp":"C","id":16,"t":123,"v":1.8},
{"grp":"C","id":17,"t":27,"v":-0.9},{"grp":"C","id":17,"t":31,"v":-1.4},{"grp":"C","id":17,"t":35,"v":-0.6},{"grp":"C","id":17,"t":39,"v":0.6},{"grp":"C","id":17,"t":43,"v":0.8},{"grp":"C","id":17,"t":47,"v":0.3},{"grp":"C","id":17,"t":51,"v":-0.3},{"grp":"C","id":17,"t":55,"v":-0.8},{"grp":"C","id":17,"t":59,"v":-1.1},{"grp":"C","id":17,"t":63,"v":-0.6},{"grp":"C","id":17,"t":67,"v":0.3},{"grp":"C","id":17,"t":71,"v":0.5},{"grp":"C","id":17,"t":75,"v":0.1},{"grp":"C","id":17,"t":79,"v":-0.5},{"grp":"C","id":17,"t":83,"v":-0.9},{"grp":"C","id":17,"t":87,"v":-1.0},{"grp":"C","id":17,"t":91,"v":-0.8},{"grp":"C","id":17,"t":95,"v":-0.4},{"grp":"C","id":17,"t":99,"v":-0.3},{"grp":"C","id":17,"t":103,"v":-0.6},{"grp":"C","id":17,"t":107,"v":-0.9},{"grp":"C","id":17,"t":111,"v":-1.0},{"grp":"C","id":17,"t":115,"v":-0.9},{"grp":"C","id":17,"t":119,"v":-0.8},{"grp":"C","id":17,"t":123,"v":-0.9},
{"grp":"C","id":18,"t":27,"v":0.6},{"grp":"C","id":18,"t":31,"v":-0.9},{"grp":"C","id":18,"t":35,"v":1.2},{"grp":"C","id":18,"t":39,"v":2.8},{"grp":"C","id":18,"t":43,"v":1.9},{"grp":"C","id":18,"t":47,"v":0.9},{"grp":"C","id":18,"t":51,"v":0.0},{"grp":"C","id":18,"t":55,"v":-0.7},{"grp":"C","id":18,"t":59,"v":-1.1},{"grp":"C","id":18,"t":63,"v":0.0},{"grp":"C","id":18,"t":67,"v":1.7},{"grp":"C","id":18,"t":71,"v":1.2},{"grp":"C","id":18,"t":75,"v":0.3},{"grp":"C","id":18,"t":79,"v":-0.5},{"grp":"C","id":18,"t":83,"v":-1.0},{"grp":"C","id":18,"t":87,"v":-0.8},{"grp":"C","id":18,"t":91,"v":0.0},{"grp":"C","id":18,"t":95,"v":1.2},{"grp":"C","id":18,"t":99,"v":0.9},{"grp":"C","id":18,"t":103,"v":-0.2},{"grp":"C","id":18,"t":107,"v":-0.9},{"grp":"C","id":18,"t":111,"v":-1.1},{"grp":"C","id":18,"t":115,"v":-0.8},{"grp":"C","id":18,"t":119,"v":-0.2},{"grp":"C","id":18,"t":123,"v":0.6},
{"grp":"C","id":19,"t":27,"v":-1.9},{"grp":"C","id":19,"t":31,"v":-2.2},{"grp":"C","id":19,"t":35,"v":-1.2},{"grp":"C","id":19,"t":39,"v":0.2},{"grp":"C","id":19,"t":43,"v":0.4},{"grp":"C","id":19,"t":47,"v":-0.1},{"grp":"C","id":19,"t":51,"v":-0.7},{"grp":"C","id":19,"t":55,"v":-1.3},{"grp":"C","id":19,"t":59,"v":-1.8},{"grp":"C","id":19,"t":63,"v":-1.2},{"grp":"C","id":19,"t":67,"v":-0.3},{"grp":"C","id":19,"t":71,"v":0.0},{"grp":"C","id":19,"t":75,"v":-0.5},{"grp":"C","id":19,"t":79,"v":-1.0},{"grp":"C","id":19,"t":83,"v":-1.3},{"grp":"C","id":19,"t":87,"v":-1.2},{"grp":"C","id":19,"t":91,"v":-0.9},{"grp":"C","id":19,"t":95,"v":-0.6},{"grp":"C","id":19,"t":99,"v":-0.7},{"grp":"C","id":19,"t":103,"v":-1.0},{"grp":"C","id":19,"t":107,"v":-1.3},{"grp":"C","id":19,"t":111,"v":-1.4},{"grp":"C","id":19,"t":115,"v":-1.3},{"grp":"C","id":19,"t":119,"v":-1.1},{"grp":"C","id":19,"t":123,"v":-1.2},
{"grp":"C","id":20,"t":27,"v":0.1},{"grp":"C","id":20,"t":31,"v":-1.1},{"grp":"C","id":20,"t":35,"v":0.3},{"grp":"C","id":20,"t":39,"v":1.6},{"grp":"C","id":20,"t":43,"v":1.4},{"grp":"C","id":20,"t":47,"v":0.9},{"grp":"C","id":20,"t":51,"v":0.3},{"grp":"C","id":20,"t":55,"v":-0.3},{"grp":"C","id":20,"t":59,"v":-0.6},{"grp":"C","id":20,"t":63,"v":-0.1},{"grp":"C","id":20,"t":67,"v":1.0},{"grp":"C","id":20,"t":71,"v":1.1},{"grp":"C","id":20,"t":75,"v":0.7},{"grp":"C","id":20,"t":79,"v":0.1},{"grp":"C","id":20,"t":83,"v":-0.5},{"grp":"C","id":20,"t":87,"v":-0.7},{"grp":"C","id":20,"t":91,"v":-0.5},{"grp":"C","id":20,"t":95,"v":0.0},{"grp":"C","id":20,"t":99,"v":0.3},{"grp":"C","id":20,"t":103,"v":0.0},{"grp":"C","id":20,"t":107,"v":-0.6},{"grp":"C","id":20,"t":111,"v":-0.9},{"grp":"C","id":20,"t":115,"v":-1.0},{"grp":"C","id":20,"t":119,"v":-0.9},{"grp":"C","id":20,"t":123,"v":-0.9},
{"grp":"C","id":21,"t":27,"v":-0.5},{"grp":"C","id":21,"t":31,"v":-1.7},{"grp":"C","id":21,"t":35,"v":-0.5},{"grp":"C","id":21,"t":39,"v":1.7},{"grp":"C","id":21,"t":43,"v":1.3},{"grp":"C","id":21,"t":47,"v":0.5},{"grp":"C","id":21,"t":51,"v":-0.4},{"grp":"C","id":21,"t":55,"v":-1.1},{"grp":"C","id":21,"t":59,"v":-1.5},{"grp":"C","id":21,"t":63,"v":-0.4},{"grp":"C","id":21,"t":67,"v":1.3},{"grp":"C","id":21,"t":71,"v":0.9},{"grp":"C","id":21,"t":75,"v":0.0},{"grp":"C","id":21,"t":79,"v":-0.7},{"grp":"C","id":21,"t":83,"v":-1.1},{"grp":"C","id":21,"t":87,"v":-1.0},{"grp":"C","id":21,"t":91,"v":-0.1},{"grp":"C","id":21,"t":95,"v":0.9},{"grp":"C","id":21,"t":99,"v":0.5},{"grp":"C","id":21,"t":103,"v":-0.5},{"grp":"C","id":21,"t":107,"v":-1.1},{"grp":"C","id":21,"t":111,"v":-1.2},{"grp":"C","id":21,"t":115,"v":-0.9},{"grp":"C","id":21,"t":119,"v":-0.5},{"grp":"C","id":21,"t":123,"v":-0.3},
{"grp":"C","id":22,"t":27,"v":0.9},{"grp":"C","id":22,"t":31,"v":0.2},{"grp":"C","id":22,"t":35,"v":0.4},{"grp":"C","id":22,"t":39,"v":1.5},{"grp":"C","id":22,"t":43,"v":1.9},{"grp":"C","id":22,"t":47,"v":1.2},{"grp":"C","id":22,"t":51,"v":0.4},{"grp":"C","id":22,"t":55,"v":-0.3},{"grp":"C","id":22,"t":59,"v":-0.7},{"grp":"C","id":22,"t":63,"v":-0.5},{"grp":"C","id":22,"t":67,"v":0.5},{"grp":"C","id":22,"t":71,"v":1.4},{"grp":"C","id":22,"t":75,"v":1.2},{"grp":"C","id":22,"t":79,"v":0.4},{"grp":"C","id":22,"t":83,"v":-0.3},{"grp":"C","id":22,"t":87,"v":-0.6},{"grp":"C","id":22,"t":91,"v":-0.4},{"grp":"C","id":22,"t":95,"v":0.3},{"grp":"C","id":22,"t":99,"v":1.0},{"grp":"C","id":22,"t":103,"v":0.8},{"grp":"C","id":22,"t":107,"v":0.0},{"grp":"C","id":22,"t":111,"v":-0.5},{"grp":"C","id":22,"t":115,"v":-0.6},{"grp":"C","id":22,"t":119,"v":-0.4},{"grp":"C","id":22,"t":123,"v":0.1},
{"grp":"E","id":1,"t":27,"v":3.4},{"grp":"E","id":1,"t":31,"v":1.5},{"grp":"E","id":1,"t":35,"v":1.0},{"grp":"E","id":1,"t":39,"v":1.8},{"grp":"E","id":1,"t":43,"v":1.5},{"grp":"E","id":1,"t":47,"v":1.0},{"grp":"E","id":1,"t":51,"v":0.4},{"grp":"E","id":1,"t":55,"v":-0.3},{"grp":"E","id":1,"t":59,"v":-0.6},{"grp":"E","id":1,"t":63,"v":0.3},{"grp":"E","id":1,"t":67,"v":1.4},{"grp":"E","id":1,"t":71,"v":1.1},{"grp":"E","id":1,"t":75,"v":0.5},{"grp":"E","id":1,"t":79,"v":0.0},{"grp":"E","id":1,"t":83,"v":-0.4},{"grp":"E","id":1,"t":87,"v":-0.2},{"grp":"E","id":1,"t":91,"v":0.5},{"grp":"E","id":1,"t":95,"v":1.2},{"grp":"E","id":1,"t":99,"v":1.0},{"grp":"E","id":1,"t":103,"v":0.4},{"grp":"E","id":1,"t":107,"v":0.0},{"grp":"E","id":1,"t":111,"v":-0.2},{"grp":"E","id":1,"t":115,"v":0.1},{"grp":"E","id":1,"t":119,"v":0.6},{"grp":"E","id":1,"t":123,"v":1.0},
{"grp":"E","id":2,"t":27,"v":0.6},{"grp":"E","id":2,"t":31,"v":-0.8},{"grp":"E","id":2,"t":35,"v":1.6},{"grp":"E","id":2,"t":39,"v":3.4},{"grp":"E","id":2,"t":43,"v":2.2},{"grp":"E","id":2,"t":47,"v":1.1},{"grp":"E","id":2,"t":51,"v":0.3},{"grp":"E","id":2,"t":55,"v":-0.5},{"grp":"E","id":2,"t":59,"v":-0.9},{"grp":"E","id":2,"t":63,"v":0.4},{"grp":"E","id":2,"t":67,"v":2.0},{"grp":"E","id":2,"t":71,"v":1.5},{"grp":"E","id":2,"t":75,"v":0.6},{"grp":"E","id":2,"t":79,"v":-0.2},{"grp":"E","id":2,"t":83,"v":-0.8},{"grp":"E","id":2,"t":87,"v":-0.5},{"grp":"E","id":2,"t":91,"v":0.6},{"grp":"E","id":2,"t":95,"v":1.9},{"grp":"E","id":2,"t":99,"v":1.2},{"grp":"E","id":2,"t":103,"v":0.1},{"grp":"E","id":2,"t":107,"v":-0.6},{"grp":"E","id":2,"t":111,"v":-0.8},{"grp":"E","id":2,"t":115,"v":-0.1},{"grp":"E","id":2,"t":119,"v":1.0},{"grp":"E","id":2,"t":123,"v":1.4},
{"grp":"E","id":3,"t":27,"v":-2.8},{"grp":"E","id":3,"t":31,"v":-2.4},{"grp":"E","id":3,"t":35,"v":-1.2},{"grp":"E","id":3,"t":39,"v":0.3},{"grp":"E","id":3,"t":43,"v":0.6},{"grp":"E","id":3,"t":47,"v":0.1},{"grp":"E","id":3,"t":51,"v":-0.6},{"grp":"E","id":3,"t":55,"v":-1.3},{"grp":"E","id":3,"t":59,"v":-1.7},{"grp":"E","id":3,"t":63,"v":-0.9},{"grp":"E","id":3,"t":67,"v":0.3},{"grp":"E","id":3,"t":71,"v":0.5},{"grp":"E","id":3,"t":75,"v":-0.1},{"grp":"E","id":3,"t":79,"v":-0.8},{"grp":"E","id":3,"t":83,"v":-1.4},{"grp":"E","id":3,"t":87,"v":-1.5},{"grp":"E","id":3,"t":91,"v":-0.9},{"grp":"E","id":3,"t":95,"v":0.0},{"grp":"E","id":3,"t":99,"v":0.2},{"grp":"E","id":3,"t":103,"v":-0.5},{"grp":"E","id":3,"t":107,"v":-1.2},{"grp":"E","id":3,"t":111,"v":-1.6},{"grp":"E","id":3,"t":115,"v":-1.5},{"grp":"E","id":3,"t":119,"v":-1.1},{"grp":"E","id":3,"t":123,"v":-0.8},
{"grp":"E","id":4,"t":27,"v":0.8},{"grp":"E","id":4,"t":31,"v":-0.5},{"grp":"E","id":4,"t":35,"v":1.3},{"grp":"E","id":4,"t":39,"v":2.9},{"grp":"E","id":4,"t":43,"v":2.1},{"grp":"E","id":4,"t":47,"v":1.3},{"grp":"E","id":4,"t":51,"v":0.6},{"grp":"E","id":4,"t":55,"v":-0.1},{"grp":"E","id":4,"t":59,"v":-0.5},{"grp":"E","id":4,"t":63,"v":0.5},{"grp":"E","id":4,"t":67,"v":1.7},{"grp":"E","id":4,"t":71,"v":1.3},{"grp":"E","id":4,"t":75,"v":0.8},{"grp":"E","id":4,"t":79,"v":0.2},{"grp":"E","id":4,"t":83,"v":-0.3},{"grp":"E","id":4,"t":87,"v":0.0},{"grp":"E","id":4,"t":91,"v":0.9},{"grp":"E","id":4,"t":95,"v":1.8},{"grp":"E","id":4,"t":99,"v":1.5},{"grp":"E","id":4,"t":103,"v":0.7},{"grp":"E","id":4,"t":107,"v":0.1},{"grp":"E","id":4,"t":111,"v":-0.3},{"grp":"E","id":4,"t":115,"v":0.4},{"grp":"E","id":4,"t":119,"v":1.6},{"grp":"E","id":4,"t":123,"v":2.3},
{"grp":"E","id":5,"t":27,"v":0.3},{"grp":"E","id":5,"t":31,"v":-0.9},{"grp":"E","id":5,"t":35,"v":0.5},{"grp":"E","id":5,"t":39,"v":1.8},{"grp":"E","id":5,"t":43,"v":2.4},{"grp":"E","id":5,"t":47,"v":2.5},{"grp":"E","id":5,"t":51,"v":1.6},{"grp":"E","id":5,"t":55,"v":0.5},{"grp":"E","id":5,"t":59,"v":-0.3},{"grp":"E","id":5,"t":63,"v":-0.6},{"grp":"E","id":5,"t":67,"v":0.6},{"grp":"E","id":5,"t":71,"v":1.6},{"grp":"E","id":5,"t":75,"v":1.8},{"grp":"E","id":5,"t":79,"v":1.2},{"grp":"E","id":5,"t":83,"v":0.5},{"grp":"E","id":5,"t":87,"v":-0.2},{"grp":"E","id":5,"t":91,"v":-0.4},{"grp":"E","id":5,"t":95,"v":0.6},{"grp":"E","id":5,"t":99,"v":1.9},{"grp":"E","id":5,"t":103,"v":2.2},{"grp":"E","id":5,"t":107,"v":1.4},{"grp":"E","id":5,"t":111,"v":0.5},{"grp":"E","id":5,"t":115,"v":-0.1},{"grp":"E","id":5,"t":119,"v":0.5},{"grp":"E","id":5,"t":123,"v":1.8},
{"grp":"E","id":6,"t":27,"v":-0.5},{"grp":"E","id":6,"t":31,"v":-1.5},{"grp":"E","id":6,"t":35,"v":-0.1},{"grp":"E","id":6,"t":39,"v":1.6},{"grp":"E","id":6,"t":43,"v":1.3},{"grp":"E","id":6,"t":47,"v":0.6},{"grp":"E","id":6,"t":51,"v":-0.3},{"grp":"E","id":6,"t":55,"v":-1.0},{"grp":"E","id":6,"t":59,"v":-1.2},{"grp":"E","id":6,"t":63,"v":0.5},{"grp":"E","id":6,"t":67,"v":3.0},{"grp":"E","id":6,"t":71,"v":1.8},{"grp":"E","id":6,"t":75,"v":0.7},{"grp":"E","id":6,"t":79,"v":-0.1},{"grp":"E","id":6,"t":83,"v":-0.7},{"grp":"E","id":6,"t":87,"v":-0.4},{"grp":"E","id":6,"t":91,"v":0.6},{"grp":"E","id":6,"t":95,"v":1.5},{"grp":"E","id":6,"t":99,"v":1.1},{"grp":"E","id":6,"t":103,"v":0.2},{"grp":"E","id":6,"t":107,"v":-0.5},{"grp":"E","id":6,"t":111,"v":-0.8},{"grp":"E","id":6,"t":115,"v":-0.5},{"grp":"E","id":6,"t":119,"v":0.2},{"grp":"E","id":6,"t":123,"v":0.8},
{"grp":"E","id":7,"t":27,"v":0.1},{"grp":"E","id":7,"t":31,"v":-1.0},{"grp":"E","id":7,"t":35,"v":0.6},{"grp":"E","id":7,"t":39,"v":2.2},{"grp":"E","id":7,"t":43,"v":1.7},{"grp":"E","id":7,"t":47,"v":0.9},{"grp":"E","id":7,"t":51,"v":0.1},{"grp":"E","id":7,"t":55,"v":-0.6},{"grp":"E","id":7,"t":59,"v":-1.0},{"grp":"E","id":7,"t":63,"v":0.0},{"grp":"E","id":7,"t":67,"v":1.6},{"grp":"E","id":7,"t":71,"v":1.3},{"grp":"E","id":7,"t":75,"v":0.6},{"grp":"E","id":7,"t":79,"v":0.1},{"grp":"E","id":7,"t":83,"v":-0.4},{"grp":"E","id":7,"t":87,"v":0.2},{"grp":"E","id":7,"t":91,"v":1.3},{"grp":"E","id":7,"t":95,"v":2.7},{"grp":"E","id":7,"t":99,"v":1.8},{"grp":"E","id":7,"t":103,"v":0.6},{"grp":"E","id":7,"t":107,"v":-0.2},{"grp":"E","id":7,"t":111,"v":-0.5},{"grp":"E","id":7,"t":115,"v":0.3},{"grp":"E","id":7,"t":119,"v":1.6},{"grp":"E","id":7,"t":123,"v":2.0},
{"grp":"E","id":8,"t":27,"v":-1.5},{"grp":"E","id":8,"t":31,"v":-2.2},{"grp":"E","id":8,"t":35,"v":-0.9},{"grp":"E","id":8,"t":39,"v":0.8},{"grp":"E","id":8,"t":43,"v":0.5},{"grp":"E","id":8,"t":47,"v":-0.3},{"grp":"E","id":8,"t":51,"v":-1.3},{"grp":"E","id":8,"t":55,"v":-2.3},{"grp":"E","id":8,"t":59,"v":-1.9},{"grp":"E","id":8,"t":63,"v":-0.8},{"grp":"E","id":8,"t":67,"v":0.6},{"grp":"E","id":8,"t":71,"v":0.5},{"grp":"E","id":8,"t":75,"v":-0.2},{"grp":"E","id":8,"t":79,"v":-1.0},{"grp":"E","id":8,"t":83,"v":-1.6},{"grp":"E","id":8,"t":87,"v":-1.7},{"grp":"E","id":8,"t":91,"v":-1.0},{"grp":"E","id":8,"t":95,"v":0.1},{"grp":"E","id":8,"t":99,"v":0.0},{"grp":"E","id":8,"t":103,"v":-0.7},{"grp":"E","id":8,"t":107,"v":-1.4},{"grp":"E","id":8,"t":111,"v":-1.7},{"grp":"E","id":8,"t":115,"v":-1.4},{"grp":"E","id":8,"t":119,"v":-1.0},{"grp":"E","id":8,"t":123,"v":-1.3},
{"grp":"E","id":9,"t":27,"v":0.9},{"grp":"E","id":9,"t":31,"v":0.4},{"grp":"E","id":9,"t":35,"v":0.9},{"grp":"E","id":9,"t":39,"v":1.7},{"grp":"E","id":9,"t":43,"v":1.6},{"grp":"E","id":9,"t":47,"v":1.2},{"grp":"E","id":9,"t":51,"v":0.8},{"grp":"E","id":9,"t":55,"v":0.3},{"grp":"E","id":9,"t":59,"v":0.0},{"grp":"E","id":9,"t":63,"v":0.5},{"grp":"E","id":9,"t":67,"v":1.2},{"grp":"E","id":9,"t":71,"v":1.4},{"grp":"E","id":9,"t":75,"v":1.1},{"grp":"E","id":9,"t":79,"v":0.7},{"grp":"E","id":9,"t":83,"v":0.3},{"grp":"E","id":9,"t":87,"v":0.2},{"grp":"E","id":9,"t":91,"v":0.6},{"grp":"E","id":9,"t":95,"v":1.1},{"grp":"E","id":9,"t":99,"v":1.4},{"grp":"E","id":9,"t":103,"v":1.2},{"grp":"E","id":9,"t":107,"v":0.8},{"grp":"E","id":9,"t":111,"v":0.4},{"grp":"E","id":9,"t":115,"v":0.6},{"grp":"E","id":9,"t":119,"v":1.1},{"grp":"E","id":9,"t":123,"v":1.3},
{"grp":"E","id":10,"t":27,"v":-1.2},{"grp":"E","id":10,"t":31,"v":-1.7},{"grp":"E","id":10,"t":35,"v":-0.6},{"grp":"E","id":10,"t":39,"v":0.9},{"grp":"E","id":10,"t":43,"v":1.3},{"grp":"E","id":10,"t":47,"v":0.7},{"grp":"E","id":10,"t":51,"v":0.0},{"grp":"E","id":10,"t":55,"v":-0.7},{"grp":"E","id":10,"t":59,"v":-1.2},{"grp":"E","id":10,"t":63,"v":-0.6},{"grp":"E","id":10,"t":67,"v":0.8},{"grp":"E","id":10,"t":71,"v":1.2},{"grp":"E","id":10,"t":75,"v":0.5},{"grp":"E","id":10,"t":79,"v":-0.2},{"grp":"E","id":10,"t":83,"v":-0.9},{"grp":"E","id":10,"t":87,"v":-1.1},{"grp":"E","id":10,"t":91,"v":-0.4},{"grp":"E","id":10,"t":95,"v":0.5},{"grp":"E","id":10,"t":99,"v":0.9},{"grp":"E","id":10,"t":103,"v":0.3},{"grp":"E","id":10,"t":107,"v":-0.6},{"grp":"E","id":10,"t":111,"v":-1.1},{"grp":"E","id":10,"t":115,"v":-1.2},{"grp":"E","id":10,"t":119,"v":-0.8},{"grp":"E","id":10,"t":123,"v":-0.5},
{"grp":"E","id":11,"t":27,"v":0.5},{"grp":"E","id":11,"t":31,"v":-0.3},{"grp":"E","id":11,"t":35,"v":0.3},{"grp":"E","id":11,"t":39,"v":1.3},{"grp":"E","id":11,"t":43,"v":2.2},{"grp":"E","id":11,"t":47,"v":1.8},{"grp":"E","id":11,"t":51,"v":1.1},{"grp":"E","id":11,"t":55,"v":0.4},{"grp":"E","id":11,"t":59,"v":-0.2},{"grp":"E","id":11,"t":63,"v":-0.4},{"grp":"E","id":11,"t":67,"v":0.6},{"grp":"E","id":11,"t":71,"v":1.5},{"grp":"E","id":11,"t":75,"v":1.7},{"grp":"E","id":11,"t":79,"v":1.1},{"grp":"E","id":11,"t":83,"v":0.4},{"grp":"E","id":11,"t":87,"v":-0.2},{"grp":"E","id":11,"t":91,"v":0.0},{"grp":"E","id":11,"t":95,"v":0.8},{"grp":"E","id":11,"t":99,"v":1.6},{"grp":"E","id":11,"t":103,"v":1.9},{"grp":"E","id":11,"t":107,"v":1.2},{"grp":"E","id":11,"t":111,"v":0.3},{"grp":"E","id":11,"t":115,"v":-0.3},{"grp":"E","id":11,"t":119,"v":-0.1},{"grp":"E","id":11,"t":123,"v":0.7},
{"grp":"E","id":12,"t":27,"v":-0.9},{"grp":"E","id":12,"t":31,"v":-1.6},{"grp":"E","id":12,"t":35,"v":-0.2},{"grp":"E","id":12,"t":39,"v":1.2},{"grp":"E","id":12,"t":43,"v":0.9},{"grp":"E","id":12,"t":47,"v":0.3},{"grp":"E","id":12,"t":51,"v":-0.4},{"grp":"E","id":12,"t":55,"v":-1.0},{"grp":"E","id":12,"t":59,"v":-1.3},{"grp":"E","id":12,"t":63,"v":-0.3},{"grp":"E","id":12,"t":67,"v":1.1},{"grp":"E","id":12,"t":71,"v":0.9},{"grp":"E","id":12,"t":75,"v":0.1},{"grp":"E","id":12,"t":79,"v":-0.6},{"grp":"E","id":12,"t":83,"v":-1.1},{"grp":"E","id":12,"t":87,"v":-0.9},{"grp":"E","id":12,"t":91,"v":-0.1},{"grp":"E","id":12,"t":95,"v":0.9},{"grp":"E","id":12,"t":99,"v":0.6},{"grp":"E","id":12,"t":103,"v":-0.3},{"grp":"E","id":12,"t":107,"v":-1.0},{"grp":"E","id":12,"t":111,"v":-1.2},{"grp":"E","id":12,"t":115,"v":-0.7},{"grp":"E","id":12,"t":119,"v":0.1},{"grp":"E","id":12,"t":123,"v":0.4},
{"grp":"E","id":13,"t":27,"v":1.6},{"grp":"E","id":13,"t":31,"v":0.6},{"grp":"E","id":13,"t":35,"v":1.1},{"grp":"E","id":13,"t":39,"v":2.4},{"grp":"E","id":13,"t":43,"v":1.9},{"grp":"E","id":13,"t":47,"v":1.5},{"grp":"E","id":13,"t":51,"v":1.0},{"grp":"E","id":13,"t":55,"v":0.6},{"grp":"E","id":13,"t":59,"v":0.3},{"grp":"E","id":13,"t":63,"v":0.8},{"grp":"E","id":13,"t":67,"v":1.6},{"grp":"E","id":13,"t":71,"v":1.9},{"grp":"E","id":13,"t":75,"v":1.5},{"grp":"E","id":13,"t":79,"v":1.0},{"grp":"E","id":13,"t":83,"v":0.6},{"grp":"E","id":13,"t":87,"v":0.5},{"grp":"E","id":13,"t":91,"v":1.0},{"grp":"E","id":13,"t":95,"v":1.5},{"grp":"E","id":13,"t":99,"v":1.7},{"grp":"E","id":13,"t":103,"v":1.3},{"grp":"E","id":13,"t":107,"v":0.8},{"grp":"E","id":13,"t":111,"v":0.5},{"grp":"E","id":13,"t":115,"v":0.9},{"grp":"E","id":13,"t":119,"v":1.5},{"grp":"E","id":13,"t":123,"v":1.9},
{"grp":"E","id":14,"t":27,"v":-2.0},{"grp":"E","id":14,"t":31,"v":-2.3},{"grp":"E","id":14,"t":35,"v":-1.6},{"grp":"E","id":14,"t":39,"v":-0.5},{"grp":"E","id":14,"t":43,"v":-0.2},{"grp":"E","id":14,"t":47,"v":-0.5},{"grp":"E","id":14,"t":51,"v":-0.9},{"grp":"E","id":14,"t":55,"v":-1.4},{"grp":"E","id":14,"t":59,"v":-1.6},{"grp":"E","id":14,"t":63,"v":-1.0},{"grp":"E","id":14,"t":67,"v":-0.3},{"grp":"E","id":14,"t":71,"v":-0.1},{"grp":"E","id":14,"t":75,"v":-0.5},{"grp":"E","id":14,"t":79,"v":-1.0},{"grp":"E","id":14,"t":83,"v":-1.3},{"grp":"E","id":14,"t":87,"v":-1.2},{"grp":"E","id":14,"t":91,"v":-0.8},{"grp":"E","id":14,"t":95,"v":-0.3},{"grp":"E","id":14,"t":99,"v":-0.2},{"grp":"E","id":14,"t":103,"v":-0.6},{"grp":"E","id":14,"t":107,"v":-1.1},{"grp":"E","id":14,"t":111,"v":-1.4},{"grp":"E","id":14,"t":115,"v":-1.3},{"grp":"E","id":14,"t":119,"v":-1.0},{"grp":"E","id":14,"t":123,"v":-0.9},
{"grp":"E","id":15,"t":27,"v":0.2},{"grp":"E","id":15,"t":31,"v":-0.7},{"grp":"E","id":15,"t":35,"v":0.2},{"grp":"E","id":15,"t":39,"v":1.5},{"grp":"E","id":15,"t":43,"v":1.8},{"grp":"E","id":15,"t":47,"v":1.1},{"grp":"E","id":15,"t":51,"v":0.3},{"grp":"E","id":15,"t":55,"v":-0.4},{"grp":"E","id":15,"t":59,"v":-0.8},{"grp":"E","id":15,"t":63,"v":-0.2},{"grp":"E","id":15,"t":67,"v":1.0},{"grp":"E","id":15,"t":71,"v":2.0},{"grp":"E","id":15,"t":75,"v":1.4},{"grp":"E","id":15,"t":79,"v":0.5},{"grp":"E","id":15,"t":83,"v":-0.2},{"grp":"E","id":15,"t":87,"v":-0.5},{"grp":"E","id":15,"t":91,"v":0.1},{"grp":"E","id":15,"t":95,"v":1.2},{"grp":"E","id":15,"t":99,"v":2.1},{"grp":"E","id":15,"t":103,"v":1.5},{"grp":"E","id":15,"t":107,"v":0.5},{"grp":"E","id":15,"t":111,"v":-0.2},{"grp":"E","id":15,"t":115,"v":-0.4},{"grp":"E","id":15,"t":119,"v":0.2},{"grp":"E","id":15,"t":123,"v":1.1},
{"grp":"E","id":16,"t":27,"v":-0.4},{"grp":"E","id":16,"t":31,"v":-1.2},{"grp":"E","id":16,"t":35,"v":0.0},{"grp":"E","id":16,"t":39,"v":1.4},{"grp":"E","id":16,"t":43,"v":1.0},{"grp":"E","id":16,"t":47,"v":0.4},{"grp":"E","id":16,"t":51,"v":-0.2},{"grp":"E","id":16,"t":55,"v":-0.8},{"grp":"E","id":16,"t":59,"v":-1.1},{"grp":"E","id":16,"t":63,"v":-0.4},{"grp":"E","id":16,"t":67,"v":0.9},{"grp":"E","id":16,"t":71,"v":0.7},{"grp":"E","id":16,"t":75,"v":0.1},{"grp":"E","id":16,"t":79,"v":-0.5},{"grp":"E","id":16,"t":83,"v":-1.0},{"grp":"E","id":16,"t":87,"v":-1.0},{"grp":"E","id":16,"t":91,"v":-0.3},{"grp":"E","id":16,"t":95,"v":0.6},{"grp":"E","id":16,"t":99,"v":0.4},{"grp":"E","id":16,"t":103,"v":-0.3},{"grp":"E","id":16,"t":107,"v":-0.9},{"grp":"E","id":16,"t":111,"v":-1.1},{"grp":"E","id":16,"t":115,"v":-0.9},{"grp":"E","id":16,"t":119,"v":-0.5},{"grp":"E","id":16,"t":123,"v":-0.2},
{"grp":"E","id":17,"t":27,"v":1.1},{"grp":"E","id":17,"t":31,"v":0.1},{"grp":"E","id":17,"t":35,"v":0.8},{"grp":"E","id":17,"t":39,"v":2.0},{"grp":"E","id":17,"t":43,"v":2.5},{"grp":"E","id":17,"t":47,"v":1.9},{"grp":"E","id":17,"t":51,"v":1.2},{"grp":"E","id":17,"t":55,"v":0.5},{"grp":"E","id":17,"t":59,"v":0.0},{"grp":"E","id":17,"t":63,"v":0.3},{"grp":"E","id":17,"t":67,"v":1.3},{"grp":"E","id":17,"t":71,"v":2.2},{"grp":"E","id":17,"t":75,"v":1.9},{"grp":"E","id":17,"t":79,"v":1.3},{"grp":"E","id":17,"t":83,"v":0.7},{"grp":"E","id":17,"t":87,"v":0.3},{"grp":"E","id":17,"t":91,"v":0.5},{"grp":"E","id":17,"t":95,"v":1.3},{"grp":"E","id":17,"t":99,"v":2.0},{"grp":"E","id":17,"t":103,"v":1.7},{"grp":"E","id":17,"t":107,"v":1.0},{"grp":"E","id":17,"t":111,"v":0.4},{"grp":"E","id":17,"t":115,"v":0.2},{"grp":"E","id":17,"t":119,"v":0.8},{"grp":"E","id":17,"t":123,"v":1.6},
{"grp":"E","id":18,"t":27,"v":-1.8},{"grp":"E","id":18,"t":31,"v":-2.0},{"grp":"E","id":18,"t":35,"v":-1.0},{"grp":"E","id":18,"t":39,"v":0.3},{"grp":"E","id":18,"t":43,"v":0.2},{"grp":"E","id":18,"t":47,"v":-0.4},{"grp":"E","id":18,"t":51,"v":-1.0},{"grp":"E","id":18,"t":55,"v":-1.6},{"grp":"E","id":18,"t":59,"v":-1.8},{"grp":"E","id":18,"t":63,"v":-1.1},{"grp":"E","id":18,"t":67,"v":0.0},{"grp":"E","id":18,"t":71,"v":0.1},{"grp":"E","id":18,"t":75,"v":-0.5},{"grp":"E","id":18,"t":79,"v":-1.2},{"grp":"E","id":18,"t":83,"v":-1.7},{"grp":"E","id":18,"t":87,"v":-1.6},{"grp":"E","id":18,"t":91,"v":-1.1},{"grp":"E","id":18,"t":95,"v":-0.4},{"grp":"E","id":18,"t":99,"v":-0.3},{"grp":"E","id":18,"t":103,"v":-0.9},{"grp":"E","id":18,"t":107,"v":-1.5},{"grp":"E","id":18,"t":111,"v":-1.7},{"grp":"E","id":18,"t":115,"v":-1.6},{"grp":"E","id":18,"t":119,"v":-1.3},{"grp":"E","id":18,"t":123,"v":-1.5},
{"grp":"E","id":19,"t":27,"v":0.7},{"grp":"E","id":19,"t":31,"v":-0.2},{"grp":"E","id":19,"t":35,"v":0.4},{"grp":"E","id":19,"t":39,"v":1.1},{"grp":"E","id":19,"t":43,"v":1.5},{"grp":"E","id":19,"t":47,"v":1.3},{"grp":"E","id":19,"t":51,"v":1.0},{"grp":"E","id":19,"t":55,"v":0.4},{"grp":"E","id":19,"t":59,"v":0.1},{"grp":"E","id":19,"t":63,"v":0.4},{"grp":"E","id":19,"t":67,"v":1.0},{"grp":"E","id":19,"t":71,"v":1.3},{"grp":"E","id":19,"t":75,"v":1.2},{"grp":"E","id":19,"t":79,"v":0.9},{"grp":"E","id":19,"t":83,"v":0.5},{"grp":"E","id":19,"t":87,"v":0.3},{"grp":"E","id":19,"t":91,"v":0.7},{"grp":"E","id":19,"t":95,"v":1.0},{"grp":"E","id":19,"t":99,"v":1.2},{"grp":"E","id":19,"t":103,"v":1.1},{"grp":"E","id":19,"t":107,"v":0.9},{"grp":"E","id":19,"t":111,"v":0.7},{"grp":"E","id":19,"t":115,"v":1.0},{"grp":"E","id":19,"t":119,"v":1.2},{"grp":"E","id":19,"t":123,"v":1.0},
{"grp":"E","id":20,"t":27,"v":-0.2},{"grp":"E","id":20,"t":31,"v":-1.0},{"grp":"E","id":20,"t":35,"v":-0.5},{"grp":"E","id":20,"t":39,"v":0.6},{"grp":"E","id":20,"t":43,"v":0.9},{"grp":"E","id":20,"t":47,"v":0.6},{"grp":"E","id":20,"t":51,"v":0.1},{"grp":"E","id":20,"t":55,"v":-0.5},{"grp":"E","id":20,"t":59,"v":-0.9},{"grp":"E","id":20,"t":63,"v":-0.7},{"grp":"E","id":20,"t":67,"v":0.1},{"grp":"E","id":20,"t":71,"v":0.5},{"grp":"E","id":20,"t":75,"v":0.3},{"grp":"E","id":20,"t":79,"v":-0.2},{"grp":"E","id":20,"t":83,"v":-0.7},{"grp":"E","id":20,"t":87,"v":-0.9},{"grp":"E","id":20,"t":91,"v":-0.5},{"grp":"E","id":20,"t":95,"v":0.1},{"grp":"E","id":20,"t":99,"v":0.4},{"grp":"E","id":20,"t":103,"v":0.2},{"grp":"E","id":20,"t":107,"v":-0.3},{"grp":"E","id":20,"t":111,"v":-0.6},{"grp":"E","id":20,"t":115,"v":-0.5},{"grp":"E","id":20,"t":119,"v":-0.2},{"grp":"E","id":20,"t":123,"v":0.1},
{"grp":"E","id":21,"t":27,"v":1.3},{"grp":"E","id":21,"t":31,"v":0.2},{"grp":"E","id":21,"t":35,"v":1.4},{"grp":"E","id":21,"t":39,"v":2.5},{"grp":"E","id":21,"t":43,"v":2.0},{"grp":"E","id":21,"t":47,"v":1.6},{"grp":"E","id":21,"t":51,"v":0.9},{"grp":"E","id":21,"t":55,"v":0.2},{"grp":"E","id":21,"t":59,"v":-0.2},{"grp":"E","id":21,"t":63,"v":0.6},{"grp":"E","id":21,"t":67,"v":1.8},{"grp":"E","id":21,"t":71,"v":2.1},{"grp":"E","id":21,"t":75,"v":1.6},{"grp":"E","id":21,"t":79,"v":0.9},{"grp":"E","id":21,"t":83,"v":0.3},{"grp":"E","id":21,"t":87,"v":0.5},{"grp":"E","id":21,"t":91,"v":1.4},{"grp":"E","id":21,"t":95,"v":2.0},{"grp":"E","id":21,"t":99,"v":1.8},{"grp":"E","id":21,"t":103,"v":1.2},{"grp":"E","id":21,"t":107,"v":0.6},{"grp":"E","id":21,"t":111,"v":0.2},{"grp":"E","id":21,"t":115,"v":0.7},{"grp":"E","id":21,"t":119,"v":1.5},{"grp":"E","id":21,"t":123,"v":2.1},
{"grp":"E","id":22,"t":27,"v":-1.0},{"grp":"E","id":22,"t":31,"v":-2.4},{"grp":"E","id":22,"t":35,"v":-1.3},{"grp":"E","id":22,"t":39,"v":0.2},{"grp":"E","id":22,"t":43,"v":-0.1},{"grp":"E","id":22,"t":47,"v":-0.7},{"grp":"E","id":22,"t":51,"v":-1.4},{"grp":"E","id":22,"t":55,"v":-2.0},{"grp":"E","id":22,"t":59,"v":-2.1},{"grp":"E","id":22,"t":63,"v":-1.4},{"grp":"E","id":22,"t":67,"v":-0.5},{"grp":"E","id":22,"t":71,"v":-0.4},{"grp":"E","id":22,"t":75,"v":-0.9},{"grp":"E","id":22,"t":79,"v":-1.5},{"grp":"E","id":22,"t":83,"v":-1.8},{"grp":"E","id":22,"t":87,"v":-1.7},{"grp":"E","id":22,"t":91,"v":-1.2},{"grp":"E","id":22,"t":95,"v":-0.7},{"grp":"E","id":22,"t":99,"v":-0.8},{"grp":"E","id":22,"t":103,"v":-1.2},{"grp":"E","id":22,"t":107,"v":-1.6},{"grp":"E","id":22,"t":111,"v":-1.8},{"grp":"E","id":22,"t":115,"v":-1.5},{"grp":"E","id":22,"t":119,"v":-1.1},{"grp":"E","id":22,"t":123,"v":-1.2},
{"grp":"E","id":23,"t":27,"v":0.4},{"grp":"E","id":23,"t":31,"v":-0.4},{"grp":"E","id":23,"t":35,"v":0.9},{"grp":"E","id":23,"t":39,"v":1.9},{"grp":"E","id":23,"t":43,"v":1.4},{"grp":"E","id":23,"t":47,"v":0.8},{"grp":"E","id":23,"t":51,"v":0.2},{"grp":"E","id":23,"t":55,"v":-0.2},{"grp":"E","id":23,"t":59,"v":-0.5},{"grp":"E","id":23,"t":63,"v":0.2},{"grp":"E","id":23,"t":67,"v":1.3},{"grp":"E","id":23,"t":71,"v":1.6},{"grp":"E","id":23,"t":75,"v":1.0},{"grp":"E","id":23,"t":79,"v":0.4},{"grp":"E","id":23,"t":83,"v":0.0},{"grp":"E","id":23,"t":87,"v":0.3},{"grp":"E","id":23,"t":91,"v":0.9},{"grp":"E","id":23,"t":95,"v":1.6},{"grp":"E","id":23,"t":99,"v":1.3},{"grp":"E","id":23,"t":103,"v":0.6},{"grp":"E","id":23,"t":107,"v":0.1},{"grp":"E","id":23,"t":111,"v":-0.1},{"grp":"E","id":23,"t":115,"v":0.2},{"grp":"E","id":23,"t":119,"v":0.8},{"grp":"E","id":23,"t":123,"v":1.2},
{"grp":"E","id":24,"t":27,"v":-0.7},{"grp":"E","id":24,"t":31,"v":-1.9},{"grp":"E","id":24,"t":35,"v":-0.8},{"grp":"E","id":24,"t":39,"v":0.5},{"grp":"E","id":24,"t":43,"v":0.7},{"grp":"E","id":24,"t":47,"v":0.2},{"grp":"E","id":24,"t":51,"v":-0.5},{"grp":"E","id":24,"t":55,"v":-1.1},{"grp":"E","id":24,"t":59,"v":-1.5},{"grp":"E","id":24,"t":63,"v":-1.0},{"grp":"E","id":24,"t":67,"v":0.0},{"grp":"E","id":24,"t":71,"v":0.3},{"grp":"E","id":24,"t":75,"v":-0.2},{"grp":"E","id":24,"t":79,"v":-0.8},{"grp":"E","id":24,"t":83,"v":-1.2},{"grp":"E","id":24,"t":87,"v":-1.0},{"grp":"E","id":24,"t":91,"v":-0.4},{"grp":"E","id":24,"t":95,"v":0.3},{"grp":"E","id":24,"t":99,"v":0.5},{"grp":"E","id":24,"t":103,"v":0.0},{"grp":"E","id":24,"t":107,"v":-0.6},{"grp":"E","id":24,"t":111,"v":-1.0},{"grp":"E","id":24,"t":115,"v":-0.9},{"grp":"E","id":24,"t":119,"v":-0.6},{"grp":"E","id":24,"t":123,"v":-0.4},
{"grp":"E","id":25,"t":27,"v":2.1},{"grp":"E","id":25,"t":31,"v":1.0},{"grp":"E","id":25,"t":35,"v":1.3},{"grp":"E","id":25,"t":39,"v":2.0},{"grp":"E","id":25,"t":43,"v":2.2},{"grp":"E","id":25,"t":47,"v":1.8},{"grp":"E","id":25,"t":51,"v":1.2},{"grp":"E","id":25,"t":55,"v":0.8},{"grp":"E","id":25,"t":59,"v":0.5},{"grp":"E","id":25,"t":63,"v":0.9},{"grp":"E","id":25,"t":67,"v":1.5},{"grp":"E","id":25,"t":71,"v":1.6},{"grp":"E","id":25,"t":75,"v":1.2},{"grp":"E","id":25,"t":79,"v":0.8},{"grp":"E","id":25,"t":83,"v":0.4},{"grp":"E","id":25,"t":87,"v":0.6},{"grp":"E","id":25,"t":91,"v":1.2},{"grp":"E","id":25,"t":95,"v":1.8},{"grp":"E","id":25,"t":99,"v":1.6},{"grp":"E","id":25,"t":103,"v":1.0},{"grp":"E","id":25,"t":107,"v":0.5},{"grp":"E","id":25,"t":111,"v":0.3},{"grp":"E","id":25,"t":115,"v":0.6},{"grp":"E","id":25,"t":119,"v":1.2},{"grp":"E","id":25,"t":123,"v":1.5},
{"grp":"E","id":26,"t":27,"v":-1.4},{"grp":"E","id":26,"t":31,"v":-1.1},{"grp":"E","id":26,"t":35,"v":0.2},{"grp":"E","id":26,"t":39,"v":1.0},{"grp":"E","id":26,"t":43,"v":0.6},{"grp":"E","id":26,"t":47,"v":0.0},{"grp":"E","id":26,"t":51,"v":-0.6},{"grp":"E","id":26,"t":55,"v":-1.2},{"grp":"E","id":26,"t":59,"v":-1.4},{"grp":"E","id":26,"t":63,"v":-0.6},{"grp":"E","id":26,"t":67,"v":0.4},{"grp":"E","id":26,"t":71,"v":0.2},{"grp":"E","id":26,"t":75,"v":-0.4},{"grp":"E","id":26,"t":79,"v":-1.0},{"grp":"E","id":26,"t":83,"v":-1.3},{"grp":"E","id":26,"t":87,"v":-0.8},{"grp":"E","id":26,"t":91,"v":0.0},{"grp":"E","id":26,"t":95,"v":0.6},{"grp":"E","id":26,"t":99,"v":0.3},{"grp":"E","id":26,"t":103,"v":-0.4},{"grp":"E","id":26,"t":107,"v":-1.0},{"grp":"E","id":26,"t":111,"v":-1.3},{"grp":"E","id":26,"t":115,"v":-1.1},{"grp":"E","id":26,"t":119,"v":-0.7},{"grp":"E","id":26,"t":123,"v":-0.6},
{"grp":"E","id":27,"t":27,"v":0.0},{"grp":"E","id":27,"t":31,"v":-1.3},{"grp":"E","id":27,"t":35,"v":0.3},{"grp":"E","id":27,"t":39,"v":1.6},{"grp":"E","id":27,"t":43,"v":2.0},{"grp":"E","id":27,"t":47,"v":1.5},{"grp":"E","id":27,"t":51,"v":0.8},{"grp":"E","id":27,"t":55,"v":0.1},{"grp":"E","id":27,"t":59,"v":-0.4},{"grp":"E","id":27,"t":63,"v":-0.1},{"grp":"E","id":27,"t":67,"v":0.9},{"grp":"E","id":27,"t":71,"v":1.8},{"grp":"E","id":27,"t":75,"v":1.5},{"grp":"E","id":27,"t":79,"v":0.7},{"grp":"E","id":27,"t":83,"v":0.0},{"grp":"E","id":27,"t":87,"v":-0.4},{"grp":"E","id":27,"t":91,"v":-0.1},{"grp":"E","id":27,"t":95,"v":0.8},{"grp":"E","id":27,"t":99,"v":1.6},{"grp":"E","id":27,"t":103,"v":1.4},{"grp":"E","id":27,"t":107,"v":0.7},{"grp":"E","id":27,"t":111,"v":0.0},{"grp":"E","id":27,"t":115,"v":-0.3},{"grp":"E","id":27,"t":119,"v":0.3},{"grp":"E","id":27,"t":123,"v":1.0},
{"grp":"E","id":28,"t":27,"v":-0.3},{"grp":"E","id":28,"t":31,"v":-0.8},{"grp":"E","id":28,"t":35,"v":-0.3},{"grp":"E","id":28,"t":39,"v":0.4},{"grp":"E","id":28,"t":43,"v":0.5},{"grp":"E","id":28,"t":47,"v":0.3},{"grp":"E","id":28,"t":51,"v":0.0},{"grp":"E","id":28,"t":55,"v":-0.4},{"grp":"E","id":28,"t":59,"v":-0.6},{"grp":"E","id":28,"t":63,"v":-0.3},{"grp":"E","id":28,"t":67,"v":0.2},{"grp":"E","id":28,"t":71,"v":0.4},{"grp":"E","id":28,"t":75,"v":0.3},{"grp":"E","id":28,"t":79,"v":0.0},{"grp":"E","id":28,"t":83,"v":-0.4},{"grp":"E","id":28,"t":87,"v":-0.5},{"grp":"E","id":28,"t":91,"v":-0.3},{"grp":"E","id":28,"t":95,"v":0.1},{"grp":"E","id":28,"t":99,"v":0.3},{"grp":"E","id":28,"t":103,"v":0.1},{"grp":"E","id":28,"t":107,"v":-0.2},{"grp":"E","id":28,"t":111,"v":-0.4},{"grp":"E","id":28,"t":115,"v":-0.3},{"grp":"E","id":28,"t":119,"v":-0.1},{"grp":"E","id":28,"t":123,"v":0.0}
]
},
"hconcat": [
{
 "width": 270, "height": 386,
 "title": {"text": "Deficiency"},
 "layer": [
  {"data": {"name": "traces"}, "transform": [{"filter": "datum.grp === 'D'"}],
   "mark": {"type": "line", "stroke": "#BEBEBE", "strokeWidth": 1},
   "encoding": {
    "x": {"field": "t", "type": "quantitative", "scale": {"domain": [22.55, 126.7], "nice": false, "zero": false}, "axis": {"values": [24,36,48,60,72,84,96,108,120], "tickCount": 20, "format": "d", "title": "Time (hours)", "labelPadding": 1, "titlePadding": 2, "labelOverlap": false, "labelBound": false}},
    "y": {"field": "v", "type": "quantitative", "scale": {"domain": [-3.54, 4.16], "nice": false, "zero": false}, "axis": {"values": [-3,-2,-1,0,1,2,3,4], "tickCount": 20, "format": "d", "title": "Relative Luminescence", "labelAngle": -90, "labelPadding": 3, "titlePadding": 1, "labelOverlap": false}},
    "detail": {"field": "id", "type": "nominal"}}},
  {"data": {"name": "lightDark"},
   "mark": {"type": "rect", "stroke": "#333", "strokeWidth": 1},
   "encoding": {"x": {"field": "start", "type": "quantitative"}, "x2": {"field": "end"}, "y": {"datum": -3}, "y2": {"datum": -3.25},
    "fill": {"field": "phase", "type": "nominal", "scale": {"domain": ["light", "dark"], "range": ["#FFFFFF", "#D3D3D3"]}, "legend": null}}},
  {"data": {"name": "controlMean"},
   "mark": {"type": "line", "stroke": "#000000", "strokeWidth": 2.5, "strokeDash": [10, 5]},
   "encoding": {"x": {"field": "t", "type": "quantitative"}, "y": {"field": "v", "type": "quantitative"}}},
  {"data": {"name": "groupMean"}, "transform": [{"filter": "datum.grp === 'D'"}],
   "mark": {"type": "line", "stroke": "#0000FF", "strokeWidth": 2.3},
   "encoding": {"x": {"field": "t", "type": "quantitative"}, "y": {"field": "v", "type": "quantitative"}}}
 ]
},
{
 "width": 270, "height": 386,
 "title": {"text": "Control"},
 "layer": [
  {"data": {"name": "traces"}, "transform": [{"filter": "datum.grp === 'C'"}],
   "mark": {"type": "line", "stroke": "#BEBEBE", "strokeWidth": 1},
   "encoding": {
    "x": {"field": "t", "type": "quantitative", "scale": {"domain": [22.55, 126.7], "nice": false, "zero": false}, "axis": {"values": [24,36,48,60,72,84,96,108,120], "tickCount": 20, "format": "d", "title": "Time (hours)", "labelPadding": 1, "titlePadding": 2, "labelOverlap": false, "labelBound": false}},
    "y": {"field": "v", "type": "quantitative", "scale": {"domain": [-3.54, 4.16], "nice": false, "zero": false}, "axis": {"values": [-3,-2,-1,0,1,2,3,4], "tickCount": 20, "format": "d", "title": "Relative Luminescence", "labelAngle": -90, "labelPadding": 3, "titlePadding": 1, "labelOverlap": false}},
    "detail": {"field": "id", "type": "nominal"}}},
  {"data": {"name": "lightDark"},
   "mark": {"type": "rect", "stroke": "#333", "strokeWidth": 1},
   "encoding": {"x": {"field": "start", "type": "quantitative"}, "x2": {"field": "end"}, "y": {"datum": -3}, "y2": {"datum": -3.25},
    "fill": {"field": "phase", "type": "nominal", "scale": {"domain": ["light", "dark"], "range": ["#FFFFFF", "#D3D3D3"]}, "legend": null}}},
  {"data": {"name": "controlMean"},
   "mark": {"type": "line", "stroke": "#000000", "strokeWidth": 2.5, "strokeDash": [10, 5]},
   "encoding": {"x": {"field": "t", "type": "quantitative"}, "y": {"field": "v", "type": "quantitative"}}}
 ]
},
{
 "width": 261, "height": 386,
 "title": {"text": "Excess"},
 "layer": [
  {"data": {"name": "traces"}, "transform": [{"filter": "datum.grp === 'E'"}],
   "mark": {"type": "line", "stroke": "#BEBEBE", "strokeWidth": 1},
   "encoding": {
    "x": {"field": "t", "type": "quantitative", "scale": {"domain": [22.55, 123.28], "nice": false, "zero": false}, "axis": {"values": [24,36,48,60,72,84,96,108,120], "tickCount": 20, "format": "d", "title": "Time (hours)", "labelPadding": 1, "titlePadding": 2, "labelOverlap": false, "labelBound": false}},
    "y": {"field": "v", "type": "quantitative", "scale": {"domain": [-3.54, 4.16], "nice": false, "zero": false}, "axis": {"values": [-3,-2,-1,0,1,2,3,4], "tickCount": 20, "format": "d", "title": "Relative Luminescence", "labelAngle": -90, "labelPadding": 3, "titlePadding": 1, "labelOverlap": false}},
    "detail": {"field": "id", "type": "nominal"}}},
  {"data": {"name": "lightDark"},
   "mark": {"type": "rect", "stroke": "#333", "strokeWidth": 1},
   "encoding": {"x": {"field": "start", "type": "quantitative"}, "x2": {"field": "end"}, "y": {"datum": -3}, "y2": {"datum": -3.25},
    "fill": {"field": "phase", "type": "nominal", "scale": {"domain": ["light", "dark"], "range": ["#FFFFFF", "#D3D3D3"]}, "legend": null}}},
  {"data": {"name": "controlMean"},
   "mark": {"type": "line", "stroke": "#000000", "strokeWidth": 2.5, "strokeDash": [10, 5]},
   "encoding": {"x": {"field": "t", "type": "quantitative"}, "y": {"field": "v", "type": "quantitative"}}},
  {"data": {"name": "groupMean"}, "transform": [{"filter": "datum.grp === 'E'"}],
   "mark": {"type": "line", "stroke": "#0000FF", "strokeWidth": 2.3},
   "encoding": {"x": {"field": "t", "type": "quantitative"}, "y": {"field": "v", "type": "quantitative"}}}
 ]
}
]
}
